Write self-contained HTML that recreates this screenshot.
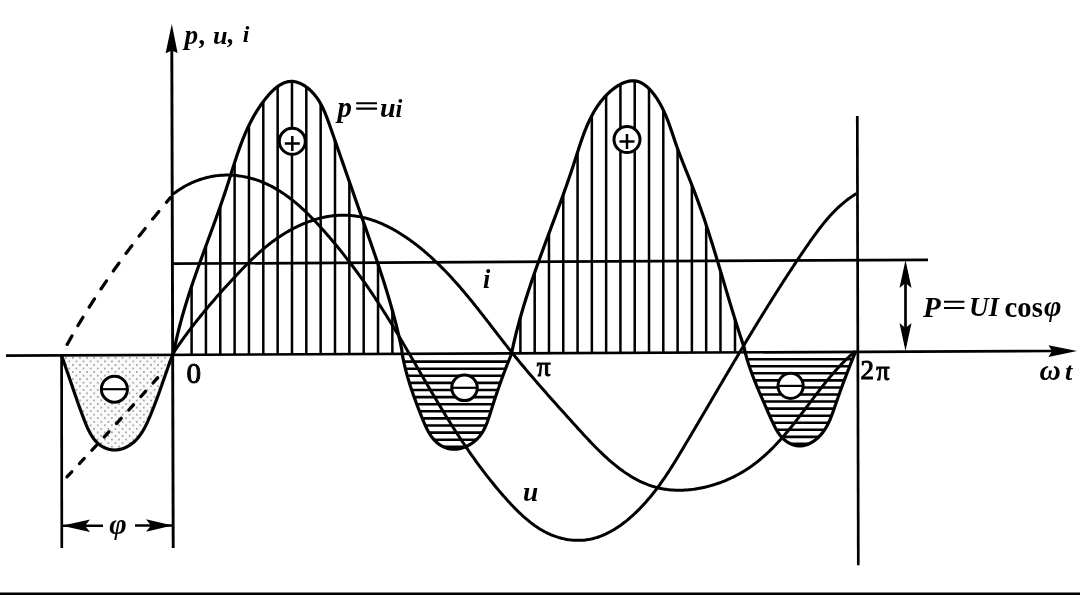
<!DOCTYPE html>
<html><head><meta charset="utf-8"><style>
html,body{margin:0;padding:0;background:#fff;width:1080px;height:595px;overflow:hidden;}
svg{display:block;font-family:"Liberation Serif",serif;}
#wrap{width:1080px;height:595px;will-change:transform;}
</style></head><body>
<div id="wrap"><svg width="1080" height="595" viewBox="0 0 1080 595"><path d="M191.60 354.62 V286.27 M205.94 354.55 V245.89 M220.28 354.49 V206.36 M234.62 354.43 V162.52 M248.96 354.36 V125.35 M263.30 354.30 V101.56 M277.64 354.24 V86.56 M291.98 354.17 V81.41 M306.32 354.11 V86.99 M320.66 354.05 V103.80 M335.00 353.99 V140.51 M349.34 353.92 V181.64 M363.68 353.86 V222.62 M378.02 353.80 V264.07 M392.36 353.73 V310.41 M520.40 353.17 V317.31 M534.69 353.11 V272.51 M548.98 353.04 V233.27 M563.27 352.98 V194.53 M577.56 352.92 V152.18 M591.85 352.85 V115.58 M606.14 352.79 V95.41 M620.43 352.73 V84.28 M634.72 352.67 V80.89 M649.01 352.60 V88.64 M663.30 352.54 V110.04 M677.59 352.48 V148.68 M691.88 352.41 V185.08 M706.17 352.35 V224.90 M720.46 352.29 V270.93 M735.00 352.22 V319.27" stroke="#000" stroke-width="2.5" fill="none"/>
<path d="M403.76 361.60 H508.35 M405.40 368.70 H505.56 M407.29 375.80 H502.89 M409.41 382.90 H500.32 M411.71 390.00 H497.82 M414.18 397.10 H495.41 M416.79 404.20 H493.10 M419.53 411.30 H490.82 M422.35 418.40 H488.55 M425.34 425.50 H485.86 M428.94 432.60 H482.16 M434.01 439.70 H476.29 M443.42 446.80 H465.48 M747.09 359.20 H852.45 M749.32 366.26 H849.66 M751.83 373.32 H846.90 M754.53 380.38 H844.23 M757.40 387.44 H841.58 M760.41 394.50 H839.02 M763.47 401.56 H836.54 M766.53 408.62 H834.12 M769.63 415.68 H831.55 M772.86 422.74 H828.54 M776.45 429.80 H824.62 M781.44 436.86 H818.85 M790.88 443.92 H808.65" stroke="#000" stroke-width="2.6" fill="none"/>
<defs><pattern id="dots" x="1" y="357" width="7.1" height="7.1" patternUnits="userSpaceOnUse"><rect x="0" y="0" width="1.7" height="1.7" fill="#a0a0a0"/><rect x="3.55" y="3.55" width="1.7" height="1.7" fill="#a0a0a0"/></pattern><clipPath id="cp1"><path d="M61.51 355.44 L61.63 355.78 L61.76 356.12 L61.88 356.46 L62.00 356.80 L62.13 357.14 L62.25 357.48 L62.37 357.82 L62.49 358.16 L62.61 358.50 L62.74 358.84 L62.86 359.17 L62.98 359.51 L63.10 359.85 L63.22 360.18 L63.34 360.52 L63.46 360.86 L63.58 361.19 L63.70 361.53 L63.81 361.86 L63.93 362.20 L64.05 362.53 L64.17 362.87 L64.29 363.20 L64.40 363.54 L64.52 363.87 L64.64 364.20 L64.76 364.53 L64.87 364.87 L64.99 365.20 L65.10 365.53 L65.22 365.86 L65.34 366.19 L65.45 366.52 L65.57 366.85 L65.68 367.19 L65.80 367.52 L65.91 367.85 L66.03 368.18 L66.14 368.50 L66.25 368.83 L66.37 369.16 L66.48 369.49 L66.60 369.82 L66.71 370.15 L66.82 370.48 L66.94 370.80 L67.05 371.13 L67.16 371.46 L67.27 371.79 L67.39 372.11 L67.50 372.44 L67.61 372.77 L67.72 373.09 L67.83 373.42 L67.95 373.75 L68.06 374.07 L68.17 374.40 L68.28 374.72 L68.39 375.05 L68.50 375.37 L68.61 375.70 L68.73 376.02 L68.84 376.35 L68.95 376.67 L69.06 377.00 L69.17 377.32 L69.28 377.64 L69.39 377.97 L69.50 378.29 L69.61 378.62 L69.72 378.94 L69.83 379.26 L69.94 379.59 L70.05 379.91 L70.16 380.23 L70.27 380.56 L70.38 380.88 L70.49 381.20 L70.60 381.53 L70.71 381.85 L70.82 382.17 L70.93 382.49 L71.04 382.82 L71.15 383.14 L71.26 383.46 L71.37 383.78 L71.48 384.11 L71.59 384.43 L71.70 384.75 L71.81 385.07 L71.92 385.39 L72.03 385.72 L72.14 386.04 L72.24 386.36 L72.35 386.68 L72.46 387.00 L72.57 387.33 L72.68 387.65 L72.79 387.97 L72.90 388.29 L73.01 388.61 L73.12 388.94 L73.23 389.26 L73.34 389.58 L73.45 389.90 L73.56 390.22 L73.67 390.55 L73.78 390.87 L73.89 391.19 L74.00 391.51 L74.12 391.84 L74.23 392.16 L74.34 392.48 L74.45 392.80 L74.56 393.12 L74.67 393.45 L74.78 393.77 L74.89 394.09 L75.00 394.42 L75.11 394.74 L75.23 395.06 L75.34 395.38 L75.45 395.71 L75.56 396.03 L75.67 396.35 L75.78 396.68 L75.90 397.00 L76.01 397.32 L76.12 397.65 L76.23 397.97 L76.35 398.30 L76.46 398.62 L76.57 398.94 L76.69 399.27 L76.80 399.59 L76.91 399.92 L77.03 400.24 L77.14 400.57 L77.26 400.89 L77.37 401.22 L77.49 401.54 L77.60 401.87 L77.72 402.19 L77.83 402.52 L77.95 402.85 L78.06 403.17 L78.18 403.50 L78.29 403.83 L78.41 404.15 L78.53 404.48 L78.64 404.81 L78.76 405.13 L78.88 405.46 L79.00 405.79 L79.11 406.12 L79.23 406.45 L79.35 406.78 L79.47 407.10 L79.59 407.43 L79.71 407.76 L79.83 408.09 L79.94 408.42 L80.06 408.75 L80.18 409.08 L80.30 409.41 L80.43 409.74 L80.55 410.08 L80.67 410.41 L80.79 410.74 L80.91 411.07 L81.03 411.40 L81.16 411.74 L81.28 412.07 L81.40 412.40 L81.52 412.74 L81.65 413.07 L81.77 413.40 L81.90 413.74 L82.02 414.07 L82.15 414.41 L82.27 414.74 L82.40 415.08 L82.52 415.41 L82.65 415.75 L82.78 416.09 L82.90 416.42 L83.03 416.76 L83.16 417.10 L83.29 417.44 L83.42 417.78 L83.55 418.12 L83.68 418.45 L83.81 418.79 L83.94 419.13 L84.07 419.47 L84.20 419.82 L84.33 420.16 L84.46 420.50 L84.59 420.84 L84.73 421.18 L84.86 421.52 L85.00 421.86 L85.13 422.20 L85.27 422.54 L85.40 422.88 L85.54 423.22 L85.68 423.56 L85.82 423.90 L85.96 424.24 L86.10 424.58 L86.24 424.92 L86.38 425.26 L86.52 425.60 L86.67 425.94 L86.81 426.27 L86.96 426.61 L87.11 426.94 L87.26 427.28 L87.40 427.61 L87.56 427.95 L87.71 428.28 L87.86 428.61 L88.01 428.94 L88.17 429.27 L88.33 429.60 L88.48 429.92 L88.64 430.25 L88.80 430.58 L88.97 430.90 L89.13 431.22 L89.29 431.54 L89.46 431.86 L89.63 432.18 L89.80 432.50 L89.97 432.82 L90.14 433.13 L90.31 433.44 L90.49 433.75 L90.67 434.06 L90.84 434.37 L91.02 434.68 L91.21 434.98 L91.39 435.28 L91.58 435.58 L91.76 435.88 L91.95 436.18 L92.14 436.47 L92.34 436.76 L92.53 437.06 L92.73 437.34 L92.93 437.63 L93.13 437.91 L93.33 438.20 L93.54 438.47 L93.74 438.75 L93.95 439.03 L94.16 439.30 L94.38 439.57 L94.59 439.84 L94.81 440.10 L95.03 440.36 L95.25 440.62 L95.48 440.88 L95.70 441.13 L95.93 441.38 L96.16 441.63 L96.40 441.88 L96.63 442.12 L96.87 442.36 L97.11 442.59 L97.36 442.83 L97.60 443.06 L97.85 443.29 L98.11 443.51 L98.36 443.73 L98.62 443.95 L98.88 444.16 L99.14 444.37 L99.40 444.58 L99.67 444.78 L99.94 444.99 L100.21 445.18 L100.48 445.38 L100.76 445.57 L101.04 445.75 L101.32 445.94 L101.60 446.12 L101.88 446.29 L102.17 446.46 L102.46 446.63 L102.75 446.80 L103.04 446.96 L103.33 447.12 L103.63 447.27 L103.93 447.42 L104.23 447.57 L104.53 447.71 L104.83 447.84 L105.13 447.98 L105.44 448.11 L105.75 448.23 L106.05 448.36 L106.36 448.47 L106.68 448.59 L106.99 448.70 L107.30 448.80 L107.62 448.90 L107.93 449.00 L108.25 449.09 L108.57 449.18 L108.89 449.27 L109.21 449.35 L109.53 449.42 L109.85 449.49 L110.17 449.56 L110.50 449.62 L110.82 449.68 L111.15 449.73 L111.47 449.78 L111.80 449.82 L112.13 449.86 L112.46 449.89 L112.78 449.92 L113.11 449.95 L113.44 449.97 L113.77 449.98 L114.10 449.99 L114.43 450.00 L114.76 450.00 L115.09 449.99 L115.42 449.99 L115.75 449.97 L116.08 449.95 L116.42 449.93 L116.75 449.90 L117.08 449.87 L117.41 449.83 L117.74 449.79 L118.07 449.74 L118.40 449.69 L118.73 449.63 L119.06 449.57 L119.39 449.51 L119.72 449.44 L120.05 449.37 L120.37 449.29 L120.70 449.21 L121.03 449.12 L121.35 449.03 L121.68 448.93 L122.00 448.84 L122.33 448.73 L122.65 448.63 L122.97 448.52 L123.30 448.40 L123.62 448.28 L123.94 448.16 L124.26 448.03 L124.57 447.90 L124.89 447.77 L125.21 447.63 L125.52 447.49 L125.83 447.35 L126.15 447.20 L126.46 447.05 L126.77 446.89 L127.08 446.73 L127.38 446.57 L127.69 446.40 L127.99 446.23 L128.29 446.06 L128.60 445.89 L128.89 445.71 L129.19 445.53 L129.49 445.34 L129.78 445.15 L130.08 444.96 L130.37 444.77 L130.65 444.57 L130.94 444.37 L131.23 444.16 L131.51 443.96 L131.79 443.75 L132.07 443.54 L132.35 443.32 L132.62 443.10 L132.89 442.88 L133.16 442.66 L133.43 442.44 L133.70 442.21 L133.96 441.98 L134.22 441.74 L134.48 441.51 L134.74 441.27 L134.99 441.03 L135.24 440.79 L135.49 440.54 L135.74 440.30 L135.98 440.05 L136.23 439.79 L136.47 439.54 L136.71 439.28 L136.94 439.03 L137.18 438.76 L137.41 438.50 L137.64 438.24 L137.87 437.97 L138.09 437.70 L138.31 437.43 L138.54 437.16 L138.76 436.88 L138.97 436.61 L139.19 436.33 L139.40 436.05 L139.61 435.77 L139.83 435.49 L140.03 435.20 L140.24 434.91 L140.44 434.63 L140.65 434.33 L140.85 434.04 L141.05 433.75 L141.25 433.46 L141.44 433.16 L141.64 432.86 L141.83 432.56 L142.02 432.26 L142.21 431.96 L142.40 431.66 L142.58 431.35 L142.77 431.05 L142.95 430.74 L143.13 430.43 L143.31 430.12 L143.49 429.81 L143.67 429.50 L143.85 429.19 L144.02 428.88 L144.20 428.56 L144.37 428.25 L144.54 427.93 L144.71 427.61 L144.88 427.29 L145.04 426.97 L145.21 426.65 L145.37 426.33 L145.54 426.01 L145.70 425.69 L145.86 425.37 L146.02 425.04 L146.18 424.72 L146.34 424.39 L146.49 424.07 L146.65 423.74 L146.81 423.42 L146.96 423.09 L147.11 422.76 L147.26 422.43 L147.42 422.11 L147.57 421.78 L147.72 421.45 L147.86 421.12 L148.01 420.79 L148.16 420.46 L148.31 420.13 L148.45 419.80 L148.60 419.47 L148.74 419.14 L148.88 418.81 L149.03 418.48 L149.17 418.15 L149.31 417.82 L149.45 417.49 L149.59 417.16 L149.73 416.83 L149.87 416.50 L150.01 416.17 L150.15 415.84 L150.29 415.51 L150.42 415.18 L150.56 414.86 L150.70 414.53 L150.83 414.20 L150.97 413.87 L151.10 413.54 L151.24 413.22 L151.37 412.89 L151.51 412.56 L151.64 412.23 L151.77 411.91 L151.91 411.58 L152.04 411.25 L152.17 410.93 L152.30 410.60 L152.43 410.27 L152.56 409.95 L152.69 409.62 L152.82 409.30 L152.95 408.97 L153.08 408.64 L153.21 408.32 L153.34 407.99 L153.47 407.67 L153.59 407.34 L153.72 407.02 L153.85 406.69 L153.97 406.37 L154.10 406.05 L154.22 405.72 L154.35 405.40 L154.48 405.07 L154.60 404.75 L154.72 404.43 L154.85 404.10 L154.97 403.78 L155.10 403.45 L155.22 403.13 L155.34 402.81 L155.46 402.48 L155.59 402.16 L155.71 401.84 L155.83 401.52 L155.95 401.19 L156.07 400.87 L156.19 400.55 L156.31 400.22 L156.43 399.90 L156.55 399.58 L156.67 399.26 L156.79 398.93 L156.91 398.61 L157.03 398.29 L157.15 397.97 L157.27 397.65 L157.39 397.32 L157.51 397.00 L157.62 396.68 L157.74 396.36 L157.86 396.04 L157.98 395.71 L158.09 395.39 L158.21 395.07 L158.33 394.75 L158.44 394.43 L158.56 394.10 L158.68 393.78 L158.79 393.46 L158.91 393.14 L159.02 392.82 L159.14 392.50 L159.25 392.17 L159.37 391.85 L159.48 391.53 L159.60 391.21 L159.71 390.89 L159.83 390.57 L159.94 390.24 L160.06 389.92 L160.17 389.60 L160.29 389.28 L160.40 388.96 L160.51 388.64 L160.63 388.31 L160.74 387.99 L160.85 387.67 L160.97 387.35 L161.08 387.03 L161.20 386.70 L161.31 386.38 L161.42 386.06 L161.54 385.74 L161.65 385.42 L161.76 385.09 L161.87 384.77 L161.99 384.45 L162.10 384.13 L162.21 383.81 L162.33 383.48 L162.44 383.16 L162.55 382.84 L162.66 382.52 L162.78 382.19 L162.89 381.87 L163.00 381.55 L163.12 381.22 L163.23 380.90 L163.34 380.58 L163.45 380.25 L163.57 379.93 L163.68 379.61 L163.79 379.28 L163.91 378.96 L164.02 378.64 L164.13 378.31 L164.24 377.99 L164.36 377.66 L164.47 377.34 L164.58 377.02 L164.70 376.69 L164.81 376.37 L164.92 376.04 L165.04 375.72 L165.15 375.39 L165.27 375.07 L165.38 374.74 L165.49 374.42 L165.61 374.09 L165.72 373.77 L165.83 373.44 L165.95 373.11 L166.06 372.79 L166.18 372.46 L166.29 372.14 L166.41 371.81 L166.52 371.48 L166.64 371.16 L166.75 370.83 L166.87 370.50 L166.98 370.17 L167.10 369.85 L167.21 369.52 L167.33 369.19 L167.45 368.86 L167.56 368.53 L167.68 368.21 L167.80 367.88 L167.91 367.55 L168.03 367.22 L168.15 366.89 L168.27 366.56 L168.38 366.23 L168.50 365.90 L168.62 365.57 L168.74 365.24 L168.86 364.91 L168.97 364.58 L169.09 364.25 L169.21 363.92 L169.33 363.59 L169.45 363.25 L169.57 362.92 L169.69 362.59 L169.81 362.26 L169.93 361.92 L170.05 361.59 L170.18 361.26 L170.30 360.93 L170.42 360.59 L170.54 360.26 L170.66 359.92 L170.79 359.59 L170.91 359.25 L171.03 358.92 L171.16 358.58 L171.28 358.25 L171.41 357.91 L171.53 357.58 L171.65 357.24 L171.78 356.90 L171.91 356.57 L172.03 356.23 L172.16 355.89 L172.28 355.56 L172.41 355.22 L172.5 354.7 L61.5 355.5 Z"/></clipPath></defs>
<path d="M61.51 355.44 L61.63 355.78 L61.76 356.12 L61.88 356.46 L62.00 356.80 L62.13 357.14 L62.25 357.48 L62.37 357.82 L62.49 358.16 L62.61 358.50 L62.74 358.84 L62.86 359.17 L62.98 359.51 L63.10 359.85 L63.22 360.18 L63.34 360.52 L63.46 360.86 L63.58 361.19 L63.70 361.53 L63.81 361.86 L63.93 362.20 L64.05 362.53 L64.17 362.87 L64.29 363.20 L64.40 363.54 L64.52 363.87 L64.64 364.20 L64.76 364.53 L64.87 364.87 L64.99 365.20 L65.10 365.53 L65.22 365.86 L65.34 366.19 L65.45 366.52 L65.57 366.85 L65.68 367.19 L65.80 367.52 L65.91 367.85 L66.03 368.18 L66.14 368.50 L66.25 368.83 L66.37 369.16 L66.48 369.49 L66.60 369.82 L66.71 370.15 L66.82 370.48 L66.94 370.80 L67.05 371.13 L67.16 371.46 L67.27 371.79 L67.39 372.11 L67.50 372.44 L67.61 372.77 L67.72 373.09 L67.83 373.42 L67.95 373.75 L68.06 374.07 L68.17 374.40 L68.28 374.72 L68.39 375.05 L68.50 375.37 L68.61 375.70 L68.73 376.02 L68.84 376.35 L68.95 376.67 L69.06 377.00 L69.17 377.32 L69.28 377.64 L69.39 377.97 L69.50 378.29 L69.61 378.62 L69.72 378.94 L69.83 379.26 L69.94 379.59 L70.05 379.91 L70.16 380.23 L70.27 380.56 L70.38 380.88 L70.49 381.20 L70.60 381.53 L70.71 381.85 L70.82 382.17 L70.93 382.49 L71.04 382.82 L71.15 383.14 L71.26 383.46 L71.37 383.78 L71.48 384.11 L71.59 384.43 L71.70 384.75 L71.81 385.07 L71.92 385.39 L72.03 385.72 L72.14 386.04 L72.24 386.36 L72.35 386.68 L72.46 387.00 L72.57 387.33 L72.68 387.65 L72.79 387.97 L72.90 388.29 L73.01 388.61 L73.12 388.94 L73.23 389.26 L73.34 389.58 L73.45 389.90 L73.56 390.22 L73.67 390.55 L73.78 390.87 L73.89 391.19 L74.00 391.51 L74.12 391.84 L74.23 392.16 L74.34 392.48 L74.45 392.80 L74.56 393.12 L74.67 393.45 L74.78 393.77 L74.89 394.09 L75.00 394.42 L75.11 394.74 L75.23 395.06 L75.34 395.38 L75.45 395.71 L75.56 396.03 L75.67 396.35 L75.78 396.68 L75.90 397.00 L76.01 397.32 L76.12 397.65 L76.23 397.97 L76.35 398.30 L76.46 398.62 L76.57 398.94 L76.69 399.27 L76.80 399.59 L76.91 399.92 L77.03 400.24 L77.14 400.57 L77.26 400.89 L77.37 401.22 L77.49 401.54 L77.60 401.87 L77.72 402.19 L77.83 402.52 L77.95 402.85 L78.06 403.17 L78.18 403.50 L78.29 403.83 L78.41 404.15 L78.53 404.48 L78.64 404.81 L78.76 405.13 L78.88 405.46 L79.00 405.79 L79.11 406.12 L79.23 406.45 L79.35 406.78 L79.47 407.10 L79.59 407.43 L79.71 407.76 L79.83 408.09 L79.94 408.42 L80.06 408.75 L80.18 409.08 L80.30 409.41 L80.43 409.74 L80.55 410.08 L80.67 410.41 L80.79 410.74 L80.91 411.07 L81.03 411.40 L81.16 411.74 L81.28 412.07 L81.40 412.40 L81.52 412.74 L81.65 413.07 L81.77 413.40 L81.90 413.74 L82.02 414.07 L82.15 414.41 L82.27 414.74 L82.40 415.08 L82.52 415.41 L82.65 415.75 L82.78 416.09 L82.90 416.42 L83.03 416.76 L83.16 417.10 L83.29 417.44 L83.42 417.78 L83.55 418.12 L83.68 418.45 L83.81 418.79 L83.94 419.13 L84.07 419.47 L84.20 419.82 L84.33 420.16 L84.46 420.50 L84.59 420.84 L84.73 421.18 L84.86 421.52 L85.00 421.86 L85.13 422.20 L85.27 422.54 L85.40 422.88 L85.54 423.22 L85.68 423.56 L85.82 423.90 L85.96 424.24 L86.10 424.58 L86.24 424.92 L86.38 425.26 L86.52 425.60 L86.67 425.94 L86.81 426.27 L86.96 426.61 L87.11 426.94 L87.26 427.28 L87.40 427.61 L87.56 427.95 L87.71 428.28 L87.86 428.61 L88.01 428.94 L88.17 429.27 L88.33 429.60 L88.48 429.92 L88.64 430.25 L88.80 430.58 L88.97 430.90 L89.13 431.22 L89.29 431.54 L89.46 431.86 L89.63 432.18 L89.80 432.50 L89.97 432.82 L90.14 433.13 L90.31 433.44 L90.49 433.75 L90.67 434.06 L90.84 434.37 L91.02 434.68 L91.21 434.98 L91.39 435.28 L91.58 435.58 L91.76 435.88 L91.95 436.18 L92.14 436.47 L92.34 436.76 L92.53 437.06 L92.73 437.34 L92.93 437.63 L93.13 437.91 L93.33 438.20 L93.54 438.47 L93.74 438.75 L93.95 439.03 L94.16 439.30 L94.38 439.57 L94.59 439.84 L94.81 440.10 L95.03 440.36 L95.25 440.62 L95.48 440.88 L95.70 441.13 L95.93 441.38 L96.16 441.63 L96.40 441.88 L96.63 442.12 L96.87 442.36 L97.11 442.59 L97.36 442.83 L97.60 443.06 L97.85 443.29 L98.11 443.51 L98.36 443.73 L98.62 443.95 L98.88 444.16 L99.14 444.37 L99.40 444.58 L99.67 444.78 L99.94 444.99 L100.21 445.18 L100.48 445.38 L100.76 445.57 L101.04 445.75 L101.32 445.94 L101.60 446.12 L101.88 446.29 L102.17 446.46 L102.46 446.63 L102.75 446.80 L103.04 446.96 L103.33 447.12 L103.63 447.27 L103.93 447.42 L104.23 447.57 L104.53 447.71 L104.83 447.84 L105.13 447.98 L105.44 448.11 L105.75 448.23 L106.05 448.36 L106.36 448.47 L106.68 448.59 L106.99 448.70 L107.30 448.80 L107.62 448.90 L107.93 449.00 L108.25 449.09 L108.57 449.18 L108.89 449.27 L109.21 449.35 L109.53 449.42 L109.85 449.49 L110.17 449.56 L110.50 449.62 L110.82 449.68 L111.15 449.73 L111.47 449.78 L111.80 449.82 L112.13 449.86 L112.46 449.89 L112.78 449.92 L113.11 449.95 L113.44 449.97 L113.77 449.98 L114.10 449.99 L114.43 450.00 L114.76 450.00 L115.09 449.99 L115.42 449.99 L115.75 449.97 L116.08 449.95 L116.42 449.93 L116.75 449.90 L117.08 449.87 L117.41 449.83 L117.74 449.79 L118.07 449.74 L118.40 449.69 L118.73 449.63 L119.06 449.57 L119.39 449.51 L119.72 449.44 L120.05 449.37 L120.37 449.29 L120.70 449.21 L121.03 449.12 L121.35 449.03 L121.68 448.93 L122.00 448.84 L122.33 448.73 L122.65 448.63 L122.97 448.52 L123.30 448.40 L123.62 448.28 L123.94 448.16 L124.26 448.03 L124.57 447.90 L124.89 447.77 L125.21 447.63 L125.52 447.49 L125.83 447.35 L126.15 447.20 L126.46 447.05 L126.77 446.89 L127.08 446.73 L127.38 446.57 L127.69 446.40 L127.99 446.23 L128.29 446.06 L128.60 445.89 L128.89 445.71 L129.19 445.53 L129.49 445.34 L129.78 445.15 L130.08 444.96 L130.37 444.77 L130.65 444.57 L130.94 444.37 L131.23 444.16 L131.51 443.96 L131.79 443.75 L132.07 443.54 L132.35 443.32 L132.62 443.10 L132.89 442.88 L133.16 442.66 L133.43 442.44 L133.70 442.21 L133.96 441.98 L134.22 441.74 L134.48 441.51 L134.74 441.27 L134.99 441.03 L135.24 440.79 L135.49 440.54 L135.74 440.30 L135.98 440.05 L136.23 439.79 L136.47 439.54 L136.71 439.28 L136.94 439.03 L137.18 438.76 L137.41 438.50 L137.64 438.24 L137.87 437.97 L138.09 437.70 L138.31 437.43 L138.54 437.16 L138.76 436.88 L138.97 436.61 L139.19 436.33 L139.40 436.05 L139.61 435.77 L139.83 435.49 L140.03 435.20 L140.24 434.91 L140.44 434.63 L140.65 434.33 L140.85 434.04 L141.05 433.75 L141.25 433.46 L141.44 433.16 L141.64 432.86 L141.83 432.56 L142.02 432.26 L142.21 431.96 L142.40 431.66 L142.58 431.35 L142.77 431.05 L142.95 430.74 L143.13 430.43 L143.31 430.12 L143.49 429.81 L143.67 429.50 L143.85 429.19 L144.02 428.88 L144.20 428.56 L144.37 428.25 L144.54 427.93 L144.71 427.61 L144.88 427.29 L145.04 426.97 L145.21 426.65 L145.37 426.33 L145.54 426.01 L145.70 425.69 L145.86 425.37 L146.02 425.04 L146.18 424.72 L146.34 424.39 L146.49 424.07 L146.65 423.74 L146.81 423.42 L146.96 423.09 L147.11 422.76 L147.26 422.43 L147.42 422.11 L147.57 421.78 L147.72 421.45 L147.86 421.12 L148.01 420.79 L148.16 420.46 L148.31 420.13 L148.45 419.80 L148.60 419.47 L148.74 419.14 L148.88 418.81 L149.03 418.48 L149.17 418.15 L149.31 417.82 L149.45 417.49 L149.59 417.16 L149.73 416.83 L149.87 416.50 L150.01 416.17 L150.15 415.84 L150.29 415.51 L150.42 415.18 L150.56 414.86 L150.70 414.53 L150.83 414.20 L150.97 413.87 L151.10 413.54 L151.24 413.22 L151.37 412.89 L151.51 412.56 L151.64 412.23 L151.77 411.91 L151.91 411.58 L152.04 411.25 L152.17 410.93 L152.30 410.60 L152.43 410.27 L152.56 409.95 L152.69 409.62 L152.82 409.30 L152.95 408.97 L153.08 408.64 L153.21 408.32 L153.34 407.99 L153.47 407.67 L153.59 407.34 L153.72 407.02 L153.85 406.69 L153.97 406.37 L154.10 406.05 L154.22 405.72 L154.35 405.40 L154.48 405.07 L154.60 404.75 L154.72 404.43 L154.85 404.10 L154.97 403.78 L155.10 403.45 L155.22 403.13 L155.34 402.81 L155.46 402.48 L155.59 402.16 L155.71 401.84 L155.83 401.52 L155.95 401.19 L156.07 400.87 L156.19 400.55 L156.31 400.22 L156.43 399.90 L156.55 399.58 L156.67 399.26 L156.79 398.93 L156.91 398.61 L157.03 398.29 L157.15 397.97 L157.27 397.65 L157.39 397.32 L157.51 397.00 L157.62 396.68 L157.74 396.36 L157.86 396.04 L157.98 395.71 L158.09 395.39 L158.21 395.07 L158.33 394.75 L158.44 394.43 L158.56 394.10 L158.68 393.78 L158.79 393.46 L158.91 393.14 L159.02 392.82 L159.14 392.50 L159.25 392.17 L159.37 391.85 L159.48 391.53 L159.60 391.21 L159.71 390.89 L159.83 390.57 L159.94 390.24 L160.06 389.92 L160.17 389.60 L160.29 389.28 L160.40 388.96 L160.51 388.64 L160.63 388.31 L160.74 387.99 L160.85 387.67 L160.97 387.35 L161.08 387.03 L161.20 386.70 L161.31 386.38 L161.42 386.06 L161.54 385.74 L161.65 385.42 L161.76 385.09 L161.87 384.77 L161.99 384.45 L162.10 384.13 L162.21 383.81 L162.33 383.48 L162.44 383.16 L162.55 382.84 L162.66 382.52 L162.78 382.19 L162.89 381.87 L163.00 381.55 L163.12 381.22 L163.23 380.90 L163.34 380.58 L163.45 380.25 L163.57 379.93 L163.68 379.61 L163.79 379.28 L163.91 378.96 L164.02 378.64 L164.13 378.31 L164.24 377.99 L164.36 377.66 L164.47 377.34 L164.58 377.02 L164.70 376.69 L164.81 376.37 L164.92 376.04 L165.04 375.72 L165.15 375.39 L165.27 375.07 L165.38 374.74 L165.49 374.42 L165.61 374.09 L165.72 373.77 L165.83 373.44 L165.95 373.11 L166.06 372.79 L166.18 372.46 L166.29 372.14 L166.41 371.81 L166.52 371.48 L166.64 371.16 L166.75 370.83 L166.87 370.50 L166.98 370.17 L167.10 369.85 L167.21 369.52 L167.33 369.19 L167.45 368.86 L167.56 368.53 L167.68 368.21 L167.80 367.88 L167.91 367.55 L168.03 367.22 L168.15 366.89 L168.27 366.56 L168.38 366.23 L168.50 365.90 L168.62 365.57 L168.74 365.24 L168.86 364.91 L168.97 364.58 L169.09 364.25 L169.21 363.92 L169.33 363.59 L169.45 363.25 L169.57 362.92 L169.69 362.59 L169.81 362.26 L169.93 361.92 L170.05 361.59 L170.18 361.26 L170.30 360.93 L170.42 360.59 L170.54 360.26 L170.66 359.92 L170.79 359.59 L170.91 359.25 L171.03 358.92 L171.16 358.58 L171.28 358.25 L171.41 357.91 L171.53 357.58 L171.65 357.24 L171.78 356.90 L171.91 356.57 L172.03 356.23 L172.16 355.89 L172.28 355.56 L172.41 355.22 L172.5 354.7 L61.5 355.5 Z" fill="#fafafa"/>
<rect x="55" y="350" width="125" height="110" fill="url(#dots)" clip-path="url(#cp1)"/>
<line x1="6" y1="355.6" x2="1052" y2="351.0" stroke="#000" stroke-width="2.7"/>
<path d="M1077 351.0 L1048.5 345.3 L1052 351.0 L1048.5 357.0 Z" fill="#000"/>
<line x1="171.8" y1="50" x2="173.2" y2="548" stroke="#000" stroke-width="2.9"/>
<path d="M171.8 24 L165.6 53.2 L171.8 50.5 L177.6 53.0 Z" fill="#000"/>
<line x1="857.3" y1="116" x2="858.3" y2="565.2" stroke="#000" stroke-width="2.7"/>
<line x1="61.6" y1="355" x2="61.8" y2="548" stroke="#000" stroke-width="2.7"/>
<line x1="172.5" y1="263.7" x2="928" y2="259.8" stroke="#000" stroke-width="2.7"/>
<line x1="905.5" y1="270" x2="905.5" y2="345" stroke="#000" stroke-width="2.7"/>
<path d="M905.5 260 L899.5 288 L905.5 283 L911.5 288 Z" fill="#000"/>
<path d="M905.5 351 L899.5 323 L905.5 328 L911.5 323 Z" fill="#000"/>
<line x1="62" y1="525.7" x2="103" y2="525.7" stroke="#000" stroke-width="2.6"/>
<line x1="135" y1="525.5" x2="172" y2="525.5" stroke="#000" stroke-width="2.6"/>
<path d="M62 525.7 L90 519.5 L85 525.7 L90 532 Z" fill="#000"/>
<path d="M172.5 525.5 L146 519.3 L151 525.5 L146 531.7 Z" fill="#000"/>
<path d="M67.21 344.39 L67.34 344.15 L67.47 343.91 L67.61 343.67 L67.74 343.43 L67.87 343.19 L68.00 342.95 L68.14 342.71 L68.27 342.47 L68.40 342.23 L68.53 341.99 L68.67 341.75 L68.80 341.51 L68.93 341.27 L69.07 341.03 L69.20 340.79 L69.33 340.55 L69.47 340.31 L69.60 340.08 L69.74 339.84 L69.87 339.60 L70.00 339.36 L70.14 339.12 L70.27 338.88 L70.41 338.64 L70.54 338.40 L70.68 338.16 L70.81 337.93 L70.95 337.69 L71.08 337.45 L71.21 337.21 L71.35 336.97 L71.48 336.73 L71.62 336.50 L71.76 336.26 L71.89 336.02 L72.03 335.78 L72.16 335.54 L72.30 335.31 L72.43 335.07 L72.57 334.83 L72.70 334.59 L72.84 334.35 L72.98 334.12 L73.11 333.88 L73.25 333.64 L73.39 333.40 L73.52 333.17 L73.66 332.93 L73.79 332.69 L73.93 332.45 L74.07 332.22 L74.21 331.98 L74.34 331.74 L74.48 331.50 L74.62 331.27 L74.75 331.03 L74.89 330.79 L75.03 330.56 L75.17 330.32 L75.30 330.08 L75.44 329.85 L75.58 329.61 L75.72 329.37 L75.86 329.14 L75.99 328.90 L76.13 328.66 L76.27 328.43 L76.41 328.19 L76.55 327.95 L76.68 327.72 L76.82 327.48 L76.96 327.24 L77.10 327.01 L77.24 326.77 L77.38 326.54 L77.52 326.30 L77.66 326.06 L77.80 325.83 L77.94 325.59 L78.07 325.36 L78.21 325.12 L78.35 324.88 L78.49 324.65 L78.63 324.41 L78.77 324.18 L78.91 323.94 L79.05 323.71 L79.19 323.47 L79.33 323.24 L79.47 323.00 L79.61 322.77 L79.75 322.53 L79.89 322.29 L80.04 322.06 L80.18 321.82 L80.32 321.59 L80.46 321.35 L80.60 321.12 L80.74 320.88 L80.88 320.65 L81.02 320.41 L81.16 320.18 L81.31 319.95 L81.45 319.71 L81.59 319.48 L81.73 319.24 L81.87 319.01 L82.01 318.77 L82.16 318.54 L82.30 318.30 L82.44 318.07 L82.58 317.84 L82.72 317.60 L82.87 317.37 L83.01 317.13 L83.15 316.90 L83.29 316.66 L83.44 316.43 L83.58 316.20 L83.72 315.96 L83.87 315.73 L84.01 315.50 L84.15 315.26 L84.29 315.03 L84.44 314.79 L84.58 314.56 L84.72 314.33 L84.87 314.09 L85.01 313.86 L85.16 313.63 L85.30 313.39 L85.44 313.16 L85.59 312.93 L85.73 312.69 L85.88 312.46 L86.02 312.23 L86.16 312.00 L86.31 311.76 L86.45 311.53 L86.60 311.30 L86.74 311.06 L86.89 310.83 L87.03 310.60 L87.18 310.37 L87.32 310.13 L87.47 309.90 L87.61 309.67 L87.76 309.44 L87.90 309.20 L88.05 308.97 L88.19 308.74 L88.34 308.51 L88.48 308.27 L88.63 308.04 L88.78 307.81 L88.92 307.58 L89.07 307.35 L89.21 307.11 L89.36 306.88 L89.51 306.65 L89.65 306.42 L89.80 306.19 L89.95 305.95 L90.09 305.72 L90.24 305.49 L90.39 305.26 L90.53 305.03 L90.68 304.80 L90.83 304.57 L90.97 304.33 L91.12 304.10 L91.27 303.87 L91.41 303.64 L91.56 303.41 L91.71 303.18 L91.86 302.95 L92.00 302.72 L92.15 302.48 L92.30 302.25 L92.45 302.02 L92.60 301.79 L92.74 301.56 L92.89 301.33 L93.04 301.10 L93.19 300.87 L93.34 300.64 L93.48 300.41 L93.63 300.18 L93.78 299.95 L93.93 299.72 L94.08 299.49 L94.23 299.26 L94.38 299.03 L94.53 298.80 L94.67 298.57 L94.82 298.34 L94.97 298.11 L95.12 297.88 L95.27 297.65 L95.42 297.42 L95.57 297.19 L95.72 296.96 L95.87 296.73 L96.02 296.50 L96.17 296.27 L96.32 296.04 L96.47 295.81 L96.62 295.58 L96.77 295.35 L96.92 295.12 L97.07 294.89 L97.22 294.66 L97.37 294.43 L97.52 294.20 L97.67 293.97 L97.82 293.74 L97.97 293.51 L98.12 293.29 L98.28 293.06 L98.43 292.83 L98.58 292.60 L98.73 292.37 L98.88 292.14 L99.03 291.91 L99.18 291.68 L99.33 291.46 L99.49 291.23 L99.64 291.00 L99.79 290.77 L99.94 290.54 L100.09 290.31 L100.24 290.08 L100.40 289.86 L100.55 289.63 L100.70 289.40 L100.85 289.17 L101.01 288.94 L101.16 288.72 L101.31 288.49 L101.46 288.26 L101.62 288.03 L101.77 287.80 L101.92 287.58 L102.07 287.35 L102.23 287.12 L102.38 286.89 L102.53 286.67 L102.69 286.44 L102.84 286.21 L102.99 285.98 L103.15 285.76 L103.30 285.53 L103.45 285.30 L103.61 285.07 L103.76 284.85 L103.91 284.62 L104.07 284.39 L104.22 284.16 L104.37 283.94 L104.53 283.71 L104.68 283.48 L104.84 283.26 L104.99 283.03 L105.15 282.80 L105.30 282.58 L105.45 282.35 L105.61 282.12 L105.76 281.90 L105.92 281.67 L106.07 281.44 L106.23 281.22 L106.38 280.99 L106.54 280.76 L106.69 280.54 L106.85 280.31 L107.00 280.09 L107.16 279.86 L107.31 279.63 L107.47 279.41 L107.62 279.18 L107.78 278.96 L107.94 278.73 L108.09 278.50 L108.25 278.28 L108.40 278.05 L108.56 277.83 L108.72 277.60 L108.87 277.37 L109.03 277.15 L109.18 276.92 L109.34 276.70 L109.50 276.47 L109.65 276.25 L109.81 276.02 L109.97 275.80 L110.12 275.57 L110.28 275.35 L110.44 275.12 L110.59 274.90 L110.75 274.67 L110.91 274.45 L111.06 274.22 L111.22 274.00 L111.38 273.77 L111.54 273.55 L111.69 273.32 L111.85 273.10 L112.01 272.87 L112.17 272.65 L112.32 272.42 L112.48 272.20 L112.64 271.97 L112.80 271.75 L112.95 271.52 L113.11 271.30 L113.27 271.08 L113.43 270.85 L113.59 270.63 L113.75 270.40 L113.90 270.18 L114.06 269.95 L114.22 269.73 L114.38 269.51 L114.54 269.28 L114.70 269.06 L114.86 268.84 L115.01 268.61 L115.17 268.39 L115.33 268.16 L115.49 267.94 L115.65 267.72 L115.81 267.49 L115.97 267.27 L116.13 267.05 L116.29 266.82 L116.45 266.60 L116.61 266.38 L116.77 266.15 L116.93 265.93 L117.09 265.71 L117.24 265.48 L117.40 265.26 L117.56 265.04 L117.72 264.81 L117.88 264.59 L118.04 264.37 L118.21 264.15 L118.37 263.92 L118.53 263.70 L118.69 263.48 L118.85 263.25 L119.01 263.03 L119.17 262.81 L119.33 262.59 L119.49 262.36 L119.65 262.14 L119.81 261.92 L119.97 261.70 L120.13 261.47 L120.29 261.25 L120.45 261.03 L120.62 260.81 L120.78 260.59 L120.94 260.36 L121.10 260.14 L121.26 259.92 L121.42 259.70 L121.58 259.48 L121.75 259.25 L121.91 259.03 L122.07 258.81 L122.23 258.59 L122.39 258.37 L122.56 258.15 L122.72 257.92 L122.88 257.70 L123.04 257.48 L123.20 257.26 L123.37 257.04 L123.53 256.82 L123.69 256.60 L123.85 256.37 L124.02 256.15 L124.18 255.93 L124.34 255.71 L124.50 255.49 L124.67 255.27 L124.83 255.05 L124.99 254.83 L125.16 254.61 L125.32 254.39 L125.48 254.16 L125.65 253.94 L125.81 253.72 L125.97 253.50 L126.14 253.28 L126.30 253.06 L126.46 252.84 L126.63 252.62 L126.79 252.40 L126.95 252.18 L127.12 251.96 L127.28 251.74 L127.44 251.52 L127.61 251.30 L127.77 251.08 L127.94 250.86 L128.10 250.64 L128.27 250.42 L128.43 250.20 L128.59 249.98 L128.76 249.76 L128.92 249.54 L129.09 249.32 L129.25 249.10 L129.42 248.88 L129.58 248.66 L129.75 248.44 L129.91 248.22 L130.08 248.00 L130.24 247.78 L130.41 247.56 L130.57 247.34 L130.74 247.12 L130.90 246.91 L131.07 246.69 L131.23 246.47 L131.40 246.25 L131.56 246.03 L131.73 245.81 L131.89 245.59 L132.06 245.37 L132.23 245.15 L132.39 244.93 L132.56 244.72 L132.72 244.50 L132.89 244.28 L133.05 244.06 L133.22 243.84 L133.39 243.62 L133.55 243.40 L133.72 243.19 L133.89 242.97 L134.05 242.75 L134.22 242.53 L134.38 242.31 L134.55 242.09 L134.72 241.88 L134.88 241.66 L135.05 241.44 L135.22 241.22 L135.38 241.00 L135.55 240.78 L135.72 240.57 L135.89 240.35 L136.05 240.13 L136.22 239.91 L136.39 239.70 L136.55 239.48 L136.72 239.26 L136.89 239.04 L137.06 238.83 L137.22 238.61 L137.39 238.39 L137.56 238.17 L137.73 237.96 L137.89 237.74 L138.06 237.52 L138.23 237.30 L138.40 237.09 L138.57 236.87 L138.73 236.65 L138.90 236.44 L139.07 236.22 L139.24 236.00 L139.41 235.78 L139.57 235.57 L139.74 235.35 L139.91 235.13 L140.08 234.92 L140.25 234.70 L140.42 234.48 L140.59 234.27 L140.75 234.05 L140.92 233.83 L141.09 233.62 L141.26 233.40 L141.43 233.18 L141.60 232.97 L141.77 232.75 L141.94 232.54 L142.11 232.32 L142.28 232.10 L142.44 231.89 L142.61 231.67 L142.78 231.46 L142.95 231.24 L143.12 231.02 L143.29 230.81 L143.46 230.59 L143.63 230.38 L143.80 230.16 L143.97 229.94 L144.14 229.73 L144.31 229.51 L144.48 229.30 L144.65 229.08 L144.82 228.87 L144.99 228.65 L145.16 228.44 L145.33 228.22 L145.50 228.00 L145.67 227.79 L145.84 227.57 L146.01 227.36 L146.18 227.14 L146.35 226.93 L146.52 226.71 L146.69 226.50 L146.86 226.28 L147.03 226.07 L147.21 225.85 L147.38 225.64 L147.55 225.42 L147.72 225.21 L147.89 225.00 L148.06 224.78 L148.23 224.57 L148.40 224.35 L148.57 224.14 L148.75 223.92 L148.92 223.71 L149.09 223.49 L149.26 223.28 L149.43 223.07 L149.60 222.85 L149.77 222.64 L149.95 222.42 L150.12 222.21 L150.29 221.99 L150.46 221.78 L150.63 221.57 L150.80 221.35 L150.98 221.14 L151.15 220.92 L151.32 220.71 L151.49 220.50 L151.66 220.28 L151.84 220.07 L152.01 219.86 L152.18 219.64 L152.35 219.43 L152.53 219.22 L152.70 219.00 L152.87 218.79 L153.04 218.58 L153.22 218.36 L153.39 218.15 L153.56 217.94 L153.73 217.72 L153.91 217.51 L154.08 217.30 L154.25 217.08 L154.43 216.87 L154.60 216.66 L154.77 216.44 L154.95 216.23 L155.12 216.02 L155.29 215.81 L155.46 215.59 L155.64 215.38 L155.81 215.17 L155.98 214.96 L156.16 214.74 L156.33 214.53 L156.51 214.32 L156.68 214.11 L156.85 213.89 L157.03 213.68 L157.20 213.47 L157.37 213.26 L157.55 213.04 L157.72 212.83 L157.90 212.62 L158.07 212.41 L158.24 212.20 L158.42 211.98 L158.59 211.77 L158.77 211.56 L158.94 211.35 L159.11 211.14 L159.29 210.92 L159.46 210.71 L159.64 210.50 L159.81 210.29 L159.99 210.08 L160.16 209.87 L160.34 209.65 L160.51 209.44 L160.69 209.23 L160.86 209.02 L161.04 208.81 L161.21 208.60 L161.38 208.39 L161.56 208.17 L161.73 207.96 L161.91 207.75 L162.09 207.54 L162.26 207.33 L162.44 207.12 L162.61 206.91 L162.79 206.70 L162.96 206.49 L163.14 206.28 L163.31 206.06 L163.49 205.85 L163.66 205.64 L163.84 205.43 L164.01 205.22 L164.19 205.01 L164.37 204.80 L164.54 204.59 L164.72 204.38 L164.89 204.17 L165.07 203.96 L165.24 203.75 L165.42 203.54 L165.60 203.33 L165.77 203.12 L165.95 202.91 L166.13 202.70 L166.30 202.49 L166.48 202.28 L166.65 202.07 L166.83 201.86 L167.01 201.65 L167.18 201.44 L167.36 201.23 L167.54 201.02 L167.71 200.81 L167.89 200.60 L168.07 200.39 L168.24 200.18 L168.42 199.97 L168.60 199.76 L168.77 199.55 L168.95 199.34 L169.13 199.13 L169.30 198.92 L169.48 198.71 L169.66 198.51 L169.83 198.30 L170.01 198.09 L170.19 197.88 L170.37 197.67" stroke="#000" stroke-width="3.3" fill="none" stroke-linecap="round" stroke-dasharray="9.6 12.1"/>
<path d="M172.71 194.43 L174.00 193.42 L175.31 192.44 L176.63 191.49 L177.97 190.56 L179.31 189.66 L180.68 188.78 L182.05 187.93 L183.43 187.10 L184.83 186.30 L186.24 185.53 L187.66 184.78 L189.09 184.06 L190.53 183.37 L191.98 182.70 L193.43 182.07 L194.90 181.45 L196.38 180.87 L197.86 180.31 L199.35 179.78 L200.84 179.28 L202.35 178.81 L203.85 178.36 L205.37 177.94 L206.89 177.56 L208.41 177.19 L209.94 176.86 L211.47 176.56 L213.00 176.28 L214.54 176.04 L216.08 175.82 L217.62 175.63 L219.17 175.47 L220.71 175.34 L222.26 175.24 L223.80 175.16 L225.35 175.12 L226.89 175.10 L228.44 175.11 L229.98 175.14 L231.53 175.21 L233.07 175.29 L234.60 175.41 L236.14 175.55 L237.67 175.72 L239.20 175.91 L240.72 176.13 L242.24 176.37 L243.76 176.64 L245.27 176.94 L246.77 177.25 L248.27 177.60 L249.77 177.96 L251.25 178.35 L252.73 178.77 L254.20 179.20 L255.67 179.66 L257.12 180.15 L258.57 180.65 L260.01 181.18 L261.44 181.73 L262.86 182.30 L264.26 182.90 L265.66 183.51 L267.06 184.15 L268.44 184.80 L269.81 185.48 L271.17 186.17 L272.53 186.89 L273.87 187.62 L275.21 188.37 L276.53 189.14 L277.85 189.93 L279.16 190.74 L280.47 191.56 L281.76 192.40 L283.05 193.26 L284.32 194.13 L285.59 195.01 L286.86 195.92 L288.11 196.83 L289.36 197.76 L290.59 198.71 L291.82 199.67 L293.05 200.64 L294.26 201.63 L295.47 202.63 L296.68 203.64 L297.87 204.66 L299.06 205.69 L300.24 206.74 L301.41 207.79 L302.58 208.86 L303.74 209.94 L304.90 211.02 L306.05 212.12 L307.19 213.22 L308.32 214.33 L309.45 215.45 L310.58 216.58 L311.70 217.72 L312.81 218.86 L313.91 220.01 L315.02 221.17 L316.11 222.33 L317.20 223.50 L318.29 224.67 L319.37 225.85 L320.44 227.03 L321.51 228.21 L322.58 229.40 L323.64 230.60 L324.69 231.79 L325.74 232.99 L326.79 234.19 L327.83 235.40 L328.87 236.60 L329.90 237.81 L330.93 239.01 L331.95 240.22 L332.97 241.43 L333.99 242.64 L335.00 243.86 L336.01 245.07 L337.01 246.29 L338.01 247.51 L339.01 248.73 L340.00 249.95 L340.99 251.18 L341.97 252.40 L342.95 253.63 L343.93 254.86 L344.90 256.09 L345.86 257.32 L346.83 258.56 L347.79 259.79 L348.75 261.03 L349.70 262.27 L350.65 263.51 L351.59 264.76 L352.53 266.00 L353.47 267.25 L354.40 268.50 L355.33 269.75 L356.26 271.00 L357.18 272.25 L358.10 273.51 L359.02 274.77 L359.93 276.03 L360.84 277.29 L361.75 278.56 L362.65 279.82 L363.55 281.09 L364.44 282.36 L365.34 283.63 L366.22 284.91 L367.11 286.18 L367.99 287.46 L368.87 288.74 L369.75 290.02 L370.62 291.31 L371.49 292.59 L372.36 293.88 L373.22 295.17 L374.08 296.47 L374.94 297.76 L375.79 299.05 L376.64 300.35 L377.49 301.65 L378.34 302.95 L379.18 304.26 L380.02 305.56 L380.86 306.87 L381.70 308.17 L382.53 309.48 L383.36 310.79 L384.19 312.11 L385.02 313.42 L385.85 314.74 L386.67 316.05 L387.49 317.37 L388.31 318.69 L389.12 320.01 L389.94 321.33 L390.75 322.66 L391.56 323.98 L392.37 325.31 L393.18 326.63 L393.99 327.96 L394.79 329.29 L395.59 330.62 L396.39 331.95 L397.19 333.28 L397.99 334.61 L398.79 335.95 L399.59 337.28 L400.38 338.62 L401.17 339.96 L401.97 341.29 L402.76 342.63 L403.55 343.97 L404.34 345.31 L405.13 346.65 L405.91 347.99 L406.70 349.33 L407.49 350.67 L408.27 352.01 L409.06 353.36 L409.84 354.70 L410.63 356.04 L411.41 357.39 L412.19 358.73 L412.98 360.08 L413.76 361.42 L414.54 362.77 L415.32 364.11 L416.10 365.46 L416.89 366.81 L417.67 368.15 L418.45 369.50 L419.23 370.84 L420.01 372.19 L420.80 373.54 L421.58 374.88 L422.36 376.23 L423.15 377.58 L423.93 378.92 L424.71 380.27 L425.50 381.61 L426.28 382.96 L427.07 384.30 L427.86 385.65 L428.65 386.99 L429.43 388.34 L430.22 389.68 L431.01 391.02 L431.80 392.37 L432.60 393.71 L433.39 395.05 L434.18 396.39 L434.98 397.73 L435.78 399.07 L436.57 400.41 L437.37 401.75 L438.17 403.09 L438.98 404.43 L439.78 405.76 L440.59 407.10 L441.39 408.43 L442.20 409.77 L443.01 411.10 L443.83 412.43 L444.64 413.77 L445.46 415.10 L446.27 416.42 L447.09 417.75 L447.92 419.08 L448.74 420.41 L449.57 421.73 L450.39 423.05 L451.23 424.38 L452.06 425.70 L452.89 427.02 L453.73 428.33 L454.57 429.65 L455.42 430.97 L456.26 432.28 L457.11 433.59 L457.96 434.90 L458.81 436.21 L459.67 437.52 L460.53 438.83 L461.39 440.13 L462.26 441.44 L463.13 442.74 L464.00 444.04 L464.87 445.34 L465.75 446.63 L466.63 447.93 L467.52 449.22 L468.41 450.51 L469.30 451.80 L470.19 453.08 L471.09 454.37 L471.99 455.65 L472.90 456.93 L473.81 458.21 L474.72 459.49 L475.64 460.76 L476.56 462.03 L477.48 463.30 L478.41 464.57 L479.35 465.84 L480.28 467.10 L481.22 468.36 L482.17 469.62 L483.12 470.87 L484.07 472.13 L485.03 473.38 L485.99 474.63 L486.96 475.87 L487.93 477.12 L488.91 478.36 L489.89 479.59 L490.87 480.83 L491.86 482.06 L492.86 483.29 L493.86 484.52 L494.86 485.74 L495.87 486.97 L496.89 488.18 L497.91 489.40 L498.93 490.61 L499.96 491.82 L501.00 493.03 L502.04 494.23 L503.08 495.43 L504.13 496.63 L505.19 497.83 L506.25 499.02 L507.32 500.20 L508.39 501.39 L509.47 502.57 L510.56 503.74 L511.65 504.91 L512.75 506.07 L513.86 507.22 L514.97 508.36 L516.09 509.50 L517.21 510.62 L518.35 511.74 L519.49 512.84 L520.64 513.93 L521.80 515.01 L522.97 516.08 L524.14 517.13 L525.32 518.17 L526.52 519.19 L527.72 520.20 L528.93 521.19 L530.15 522.16 L531.38 523.11 L532.62 524.05 L533.87 524.97 L535.13 525.86 L536.40 526.74 L537.68 527.59 L538.97 528.42 L540.27 529.23 L541.59 530.02 L542.91 530.78 L544.25 531.52 L545.60 532.23 L546.96 532.91 L548.33 533.57 L549.71 534.20 L551.11 534.81 L552.52 535.38 L553.94 535.92 L555.37 536.44 L556.81 536.92 L558.26 537.38 L559.72 537.80 L561.19 538.19 L562.67 538.55 L564.15 538.88 L565.63 539.18 L567.13 539.45 L568.62 539.68 L570.12 539.88 L571.63 540.05 L573.13 540.18 L574.64 540.28 L576.15 540.34 L577.66 540.37 L579.16 540.37 L580.67 540.33 L582.18 540.25 L583.68 540.14 L585.18 539.99 L586.67 539.80 L588.16 539.58 L589.64 539.32 L591.12 539.02 L592.59 538.68 L594.06 538.31 L595.52 537.90 L596.97 537.46 L598.41 536.98 L599.85 536.47 L601.27 535.93 L602.69 535.35 L604.11 534.75 L605.51 534.12 L606.91 533.45 L608.30 532.76 L609.68 532.04 L611.05 531.30 L612.41 530.52 L613.76 529.73 L615.10 528.91 L616.44 528.06 L617.76 527.20 L619.07 526.31 L620.38 525.40 L621.67 524.47 L622.95 523.52 L624.22 522.55 L625.49 521.57 L626.74 520.57 L627.98 519.55 L629.20 518.52 L630.42 517.47 L631.62 516.41 L632.82 515.34 L634.00 514.26 L635.17 513.16 L636.32 512.06 L637.47 510.94 L638.60 509.82 L639.72 508.69 L640.82 507.55 L641.92 506.40 L643.00 505.24 L644.07 504.08 L645.13 502.91 L646.18 501.73 L647.22 500.54 L648.24 499.34 L649.26 498.14 L650.27 496.94 L651.27 495.72 L652.25 494.50 L653.23 493.27 L654.20 492.04 L655.16 490.80 L656.12 489.55 L657.06 488.30 L657.99 487.05 L658.92 485.78 L659.84 484.52 L660.75 483.24 L661.66 481.97 L662.56 480.69 L663.45 479.40 L664.33 478.11 L665.21 476.81 L666.09 475.52 L666.95 474.21 L667.82 472.91 L668.67 471.60 L669.52 470.28 L670.37 468.97 L671.21 467.65 L672.05 466.33 L672.88 465.00 L673.71 463.68 L674.54 462.35 L675.36 461.02 L676.18 459.68 L677.00 458.35 L677.81 457.01 L678.62 455.67 L679.43 454.33 L680.24 452.99 L681.05 451.65 L681.85 450.31 L682.65 448.97 L683.45 447.63 L684.26 446.28 L685.06 444.94 L685.86 443.59 L686.66 442.25 L687.45 440.91 L688.25 439.56 L689.05 438.22 L689.85 436.87 L690.65 435.53 L691.44 434.18 L692.24 432.84 L693.03 431.49 L693.83 430.15 L694.62 428.80 L695.42 427.46 L696.21 426.11 L697.01 424.77 L697.80 423.42 L698.59 422.08 L699.38 420.73 L700.18 419.39 L700.97 418.04 L701.76 416.70 L702.55 415.35 L703.34 414.01 L704.13 412.66 L704.93 411.31 L705.72 409.97 L706.51 408.62 L707.30 407.28 L708.09 405.93 L708.88 404.59 L709.67 403.24 L710.46 401.90 L711.25 400.55 L712.04 399.20 L712.83 397.86 L713.62 396.51 L714.41 395.17 L715.20 393.82 L715.99 392.48 L716.78 391.13 L717.57 389.79 L718.36 388.44 L719.15 387.10 L719.94 385.76 L720.73 384.41 L721.52 383.07 L722.31 381.72 L723.10 380.38 L723.89 379.03 L724.68 377.69 L725.48 376.35 L726.27 375.00 L727.06 373.66 L727.85 372.32 L728.64 370.97 L729.44 369.63 L730.23 368.29 L731.02 366.95 L731.82 365.60 L732.61 364.26 L733.41 362.92 L734.20 361.58 L735.00 360.24 L735.79 358.90 L736.59 357.56 L737.39 356.22 L738.18 354.88 L738.98 353.54 L739.78 352.20 L740.58 350.86 L741.38 349.52 L742.18 348.18 L742.98 346.84 L743.78 345.50 L744.58 344.16 L745.38 342.83 L746.18 341.49 L746.99 340.15 L747.79 338.81 L748.60 337.48 L749.40 336.14 L750.21 334.81 L751.02 333.47 L751.82 332.13 L752.63 330.80 L753.44 329.47 L754.25 328.13 L755.06 326.80 L755.87 325.46 L756.69 324.13 L757.50 322.80 L758.31 321.47 L759.13 320.14 L759.95 318.80 L760.76 317.47 L761.58 316.14 L762.40 314.81 L763.22 313.48 L764.04 312.15 L764.86 310.83 L765.69 309.50 L766.51 308.17 L767.33 306.84 L768.16 305.52 L768.99 304.19 L769.82 302.86 L770.65 301.54 L771.48 300.21 L772.31 298.89 L773.14 297.56 L773.97 296.24 L774.81 294.92 L775.65 293.60 L776.48 292.27 L777.32 290.95 L778.16 289.63 L779.00 288.31 L779.85 286.99 L780.69 285.67 L781.54 284.36 L782.38 283.04 L783.23 281.72 L784.08 280.40 L784.93 279.09 L785.78 277.77 L786.64 276.46 L787.49 275.14 L788.35 273.83 L789.21 272.52 L790.07 271.20 L790.93 269.89 L791.79 268.58 L792.65 267.27 L793.52 265.96 L794.39 264.65 L795.26 263.34 L796.13 262.04 L797.00 260.73 L797.87 259.42 L798.75 258.12 L799.62 256.81 L800.50 255.51 L801.38 254.20 L802.26 252.90 L803.15 251.60 L804.03 250.30 L804.92 249.00 L805.81 247.70 L806.70 246.40 L807.59 245.10 L808.49 243.80 L809.39 242.51 L810.29 241.22 L811.19 239.93 L812.10 238.65 L813.01 237.36 L813.93 236.09 L814.85 234.81 L815.78 233.54 L816.71 232.28 L817.65 231.02 L818.59 229.77 L819.54 228.53 L820.50 227.29 L821.46 226.06 L822.43 224.83 L823.41 223.62 L824.39 222.41 L825.39 221.21 L826.39 220.02 L827.40 218.85 L828.42 217.68 L829.45 216.52 L830.48 215.37 L831.53 214.23 L832.59 213.11 L833.66 211.99 L834.74 210.89 L835.83 209.80 L836.93 208.73 L838.04 207.67 L839.17 206.62 L840.31 205.59 L841.46 204.57 L842.62 203.56 L843.80 202.58 L844.99 201.61 L846.19 200.65 L847.41 199.71 L848.65 198.79 L849.89 197.89 L851.16 197.00 L852.44 196.13 L853.73 195.28 L855.04 194.45 L856.37 193.64" stroke="#000" stroke-width="3.0" fill="none" stroke-linejoin="round"/>
<path d="M67.00 476.81 L67.15 476.65 L67.30 476.49 L67.44 476.34 L67.59 476.18 L67.74 476.03 L67.89 475.87 L68.03 475.71 L68.18 475.56 L68.33 475.40 L68.48 475.25 L68.62 475.09 L68.77 474.94 L68.92 474.78 L69.07 474.62 L69.21 474.47 L69.36 474.31 L69.51 474.16 L69.65 474.00 L69.80 473.84 L69.95 473.69 L70.10 473.53 L70.24 473.38 L70.39 473.22 L70.54 473.06 L70.69 472.91 L70.83 472.75 L70.98 472.60 L71.13 472.44 L71.27 472.28 L71.42 472.13 L71.57 471.97 L71.72 471.82 L71.86 471.66 L72.01 471.50 L72.16 471.35 L72.30 471.19 L72.45 471.04 L72.60 470.88 L72.75 470.72 L72.89 470.57 L73.04 470.41 L73.19 470.26 L73.33 470.10 L73.48 469.94 L73.63 469.79 L73.77 469.63 L73.92 469.48 L74.07 469.32 L74.22 469.16 L74.36 469.01 L74.51 468.85 L74.66 468.70 L74.80 468.54 L74.95 468.38 L75.10 468.23 L75.24 468.07 L75.39 467.91 L75.54 467.76 L75.68 467.60 L75.83 467.45 L75.98 467.29 L76.12 467.13 L76.27 466.98 L76.42 466.82 L76.56 466.67 L76.71 466.51 L76.86 466.35 L77.01 466.20 L77.15 466.04 L77.30 465.88 L77.45 465.73 L77.59 465.57 L77.74 465.42 L77.89 465.26 L78.03 465.10 L78.18 464.95 L78.33 464.79 L78.47 464.63 L78.62 464.48 L78.77 464.32 L78.91 464.17 L79.06 464.01 L79.21 463.85 L79.35 463.70 L79.50 463.54 L79.65 463.38 L79.79 463.23 L79.94 463.07 L80.08 462.91 L80.23 462.76 L80.38 462.60 L80.52 462.45 L80.67 462.29 L80.82 462.13 L80.96 461.98 L81.11 461.82 L81.26 461.66 L81.40 461.51 L81.55 461.35 L81.70 461.19 L81.84 461.04 L81.99 460.88 L82.14 460.73 L82.28 460.57 L82.43 460.41 L82.57 460.26 L82.72 460.10 L82.87 459.94 L83.01 459.79 L83.16 459.63 L83.31 459.47 L83.45 459.32 L83.60 459.16 L83.75 459.00 L83.89 458.85 L84.04 458.69 L84.18 458.53 L84.33 458.38 L84.48 458.22 L84.62 458.06 L84.77 457.91 L84.91 457.75 L85.06 457.60 L85.21 457.44 L85.35 457.28 L85.50 457.13 L85.65 456.97 L85.79 456.81 L85.94 456.66 L86.08 456.50 L86.23 456.34 L86.38 456.19 L86.52 456.03 L86.67 455.87 L86.81 455.72 L86.96 455.56 L87.11 455.40 L87.25 455.25 L87.40 455.09 L87.54 454.93 L87.69 454.78 L87.84 454.62 L87.98 454.46 L88.13 454.31 L88.27 454.15 L88.42 453.99 L88.57 453.84 L88.71 453.68 L88.86 453.52 L89.00 453.37 L89.15 453.21 L89.30 453.05 L89.44 452.90 L89.59 452.74 L89.73 452.58 L89.88 452.43 L90.03 452.27 L90.17 452.11 L90.32 451.96 L90.46 451.80 L90.61 451.64 L90.75 451.48 L90.90 451.33 L91.05 451.17 L91.19 451.01 L91.34 450.86 L91.48 450.70 L91.63 450.54 L91.78 450.39 L91.92 450.23 L92.07 450.07 L92.21 449.92 L92.36 449.76 L92.50 449.60 L92.65 449.45 L92.79 449.29 L92.94 449.13 L93.09 448.98 L93.23 448.82 L93.38 448.66 L93.52 448.50 L93.67 448.35 L93.81 448.19 L93.96 448.03 L94.11 447.88 L94.25 447.72 L94.40 447.56 L94.54 447.41 L94.69 447.25 L94.83 447.09 L94.98 446.93 L95.12 446.78 L95.27 446.62 L95.42 446.46 L95.56 446.31 L95.71 446.15 L95.85 445.99 L96.00 445.84 L96.14 445.68 L96.29 445.52 L96.43 445.36 L96.58 445.21 L96.72 445.05 L96.87 444.89 L97.01 444.74 L97.16 444.58 L97.31 444.42 L97.45 444.27 L97.60 444.11 L97.74 443.95 L97.89 443.79 L98.03 443.64 L98.18 443.48 L98.32 443.32 L98.47 443.17 L98.61 443.01 L98.76 442.85 L98.90 442.69 L99.05 442.54 L99.19 442.38 L99.34 442.22 L99.48 442.07 L99.63 441.91 L99.77 441.75 L99.92 441.59 L100.06 441.44 L100.21 441.28 L100.35 441.12 L100.50 440.97 L100.65 440.81 L100.79 440.65 L100.94 440.49 L101.08 440.34 L101.23 440.18 L101.37 440.02 L101.52 439.86 L101.66 439.71 L101.81 439.55 L101.95 439.39 L102.10 439.24 L102.24 439.08 L102.39 438.92 L102.53 438.76 L102.68 438.61 L102.82 438.45 L102.97 438.29 L103.11 438.13 L103.26 437.98 L103.40 437.82 L103.55 437.66 L103.69 437.51 L103.83 437.35 L103.98 437.19 L104.12 437.03 L104.27 436.88 L104.41 436.72 L104.56 436.56 L104.70 436.40 L104.85 436.25 L104.99 436.09 L105.14 435.93 L105.28 435.77 L105.43 435.62 L105.57 435.46 L105.72 435.30 L105.86 435.14 L106.01 434.99 L106.15 434.83 L106.30 434.67 L106.44 434.51 L106.59 434.36 L106.73 434.20 L106.88 434.04 L107.02 433.88 L107.16 433.73 L107.31 433.57 L107.45 433.41 L107.60 433.25 L107.74 433.10 L107.89 432.94 L108.03 432.78 L108.18 432.62 L108.32 432.47 L108.47 432.31 L108.61 432.15 L108.75 431.99 L108.90 431.84 L109.04 431.68 L109.19 431.52 L109.33 431.36 L109.48 431.21 L109.62 431.05 L109.77 430.89 L109.91 430.73 L110.06 430.58 L110.20 430.42 L110.34 430.26 L110.49 430.10 L110.63 429.95 L110.78 429.79 L110.92 429.63 L111.07 429.47 L111.21 429.32 L111.35 429.16 L111.50 429.00 L111.64 428.84 L111.79 428.68 L111.93 428.53 L112.08 428.37 L112.22 428.21 L112.36 428.05 L112.51 427.90 L112.65 427.74 L112.80 427.58 L112.94 427.42 L113.09 427.27 L113.23 427.11 L113.37 426.95 L113.52 426.79 L113.66 426.63 L113.81 426.48 L113.95 426.32 L114.10 426.16 L114.24 426.00 L114.38 425.85 L114.53 425.69 L114.67 425.53 L114.82 425.37 L114.96 425.21 L115.10 425.06 L115.25 424.90 L115.39 424.74 L115.54 424.58 L115.68 424.42 L115.82 424.27 L115.97 424.11 L116.11 423.95 L116.26 423.79 L116.40 423.64 L116.54 423.48 L116.69 423.32 L116.83 423.16 L116.98 423.00 L117.12 422.85 L117.26 422.69 L117.41 422.53 L117.55 422.37 L117.70 422.21 L117.84 422.06 L117.98 421.90 L118.13 421.74 L118.27 421.58 L118.42 421.42 L118.56 421.27 L118.70 421.11 L118.85 420.95 L118.99 420.79 L119.13 420.63 L119.28 420.48 L119.42 420.32 L119.57 420.16 L119.71 420.00 L119.85 419.84 L120.00 419.69 L120.14 419.53 L120.28 419.37 L120.43 419.21 L120.57 419.05 L120.72 418.90 L120.86 418.74 L121.00 418.58 L121.15 418.42 L121.29 418.26 L121.43 418.11 L121.58 417.95 L121.72 417.79 L121.86 417.63 L122.01 417.47 L122.15 417.32 L122.30 417.16 L122.44 417.00 L122.58 416.84 L122.73 416.68 L122.87 416.52 L123.01 416.37 L123.16 416.21 L123.30 416.05 L123.44 415.89 L123.59 415.73 L123.73 415.58 L123.87 415.42 L124.02 415.26 L124.16 415.10 L124.30 414.94 L124.45 414.78 L124.59 414.63 L124.73 414.47 L124.88 414.31 L125.02 414.15 L125.16 413.99 L125.31 413.84 L125.45 413.68 L125.59 413.52 L125.74 413.36 L125.88 413.20 L126.02 413.04 L126.17 412.89 L126.31 412.73 L126.45 412.57 L126.60 412.41 L126.74 412.25 L126.88 412.09 L127.03 411.94 L127.17 411.78 L127.31 411.62 L127.46 411.46 L127.60 411.30 L127.74 411.14 L127.89 410.99 L128.03 410.83 L128.17 410.67 L128.32 410.51 L128.46 410.35 L128.60 410.19 L128.75 410.04 L128.89 409.88 L129.03 409.72 L129.17 409.56 L129.32 409.40 L129.46 409.24 L129.60 409.08 L129.75 408.93 L129.89 408.77 L130.03 408.61 L130.18 408.45 L130.32 408.29 L130.46 408.13 L130.60 407.98 L130.75 407.82 L130.89 407.66 L131.03 407.50 L131.18 407.34 L131.32 407.18 L131.46 407.02 L131.61 406.87 L131.75 406.71 L131.89 406.55 L132.03 406.39 L132.18 406.23 L132.32 406.07 L132.46 405.91 L132.61 405.76 L132.75 405.60 L132.89 405.44 L133.03 405.28 L133.18 405.12 L133.32 404.96 L133.46 404.80 L133.61 404.65 L133.75 404.49 L133.89 404.33 L134.03 404.17 L134.18 404.01 L134.32 403.85 L134.46 403.69 L134.60 403.54 L134.75 403.38 L134.89 403.22 L135.03 403.06 L135.17 402.90 L135.32 402.74 L135.46 402.58 L135.60 402.42 L135.75 402.27 L135.89 402.11 L136.03 401.95 L136.17 401.79 L136.32 401.63 L136.46 401.47 L136.60 401.31 L136.74 401.15 L136.89 401.00 L137.03 400.84 L137.17 400.68 L137.31 400.52 L137.46 400.36 L137.60 400.20 L137.74 400.04 L137.88 399.88 L138.03 399.73 L138.17 399.57 L138.31 399.41 L138.45 399.25 L138.60 399.09 L138.74 398.93 L138.88 398.77 L139.02 398.61 L139.17 398.45 L139.31 398.30 L139.45 398.14 L139.59 397.98 L139.73 397.82 L139.88 397.66 L140.02 397.50 L140.16 397.34 L140.30 397.18 L140.45 397.02 L140.59 396.87 L140.73 396.71 L140.87 396.55 L141.01 396.39 L141.16 396.23 L141.30 396.07 L141.44 395.91 L141.58 395.75 L141.73 395.59 L141.87 395.44 L142.01 395.28 L142.15 395.12 L142.29 394.96 L142.44 394.80 L142.58 394.64 L142.72 394.48 L142.86 394.32 L143.01 394.16 L143.15 394.00 L143.29 393.85 L143.43 393.69 L143.57 393.53 L143.72 393.37 L143.86 393.21 L144.00 393.05 L144.14 392.89 L144.28 392.73 L144.43 392.57 L144.57 392.41 L144.71 392.25 L144.85 392.10 L144.99 391.94 L145.14 391.78 L145.28 391.62 L145.42 391.46 L145.56 391.30 L145.70 391.14 L145.84 390.98 L145.99 390.82 L146.13 390.66 L146.27 390.50 L146.41 390.35 L146.55 390.19 L146.70 390.03 L146.84 389.87 L146.98 389.71 L147.12 389.55 L147.26 389.39 L147.40 389.23 L147.55 389.07 L147.69 388.91 L147.83 388.75 L147.97 388.59 L148.11 388.43 L148.26 388.28 L148.40 388.12 L148.54 387.96 L148.68 387.80 L148.82 387.64 L148.96 387.48 L149.11 387.32 L149.25 387.16 L149.39 387.00 L149.53 386.84 L149.67 386.68 L149.81 386.52 L149.96 386.36 L150.10 386.20 L150.24 386.05 L150.38 385.89 L150.52 385.73 L150.66 385.57 L150.80 385.41 L150.95 385.25 L151.09 385.09 L151.23 384.93 L151.37 384.77 L151.51 384.61 L151.65 384.45 L151.79 384.29 L151.94 384.13 L152.08 383.97 L152.22 383.81 L152.36 383.65 L152.50 383.50 L152.64 383.34 L152.78 383.18 L152.93 383.02 L153.07 382.86 L153.21 382.70 L153.35 382.54 L153.49 382.38 L153.63 382.22 L153.77 382.06 L153.92 381.90 L154.06 381.74 L154.20 381.58 L154.34 381.42 L154.48 381.26 L154.62 381.10 L154.76 380.94 L154.90 380.78 L155.05 380.62 L155.19 380.46 L155.33 380.31 L155.47 380.15 L155.61 379.99 L155.75 379.83 L155.89 379.67 L156.03 379.51 L156.18 379.35 L156.32 379.19 L156.46 379.03 L156.60 378.87 L156.74 378.71 L156.88 378.55 L157.02 378.39 L157.16 378.23 L157.30 378.07 L157.44 377.91 L157.59 377.75 L157.73 377.59 L157.87 377.43 L158.01 377.27 L158.15 377.11 L158.29 376.95 L158.43 376.79 L158.57 376.63 L158.71 376.47 L158.85 376.31 L159.00 376.15 L159.14 375.99 L159.28 375.84 L159.42 375.68 L159.56 375.52 L159.70 375.36 L159.84 375.20 L159.98 375.04 L160.12 374.88 L160.26 374.72 L160.40 374.56 L160.55 374.40 L160.69 374.24 L160.83 374.08 L160.97 373.92 L161.11 373.76 L161.25 373.60 L161.39 373.44 L161.53 373.28" stroke="#000" stroke-width="3.3" fill="none" stroke-linecap="round" stroke-dasharray="7 11.2"/>
<path d="M172.52 354.11 L173.29 352.96 L174.06 351.82 L174.83 350.67 L175.60 349.54 L176.38 348.40 L177.16 347.27 L177.94 346.14 L178.72 345.02 L179.51 343.90 L180.30 342.78 L181.09 341.67 L181.88 340.55 L182.68 339.45 L183.48 338.34 L184.28 337.24 L185.09 336.14 L185.89 335.04 L186.70 333.95 L187.52 332.85 L188.33 331.77 L189.15 330.68 L189.97 329.60 L190.79 328.52 L191.61 327.44 L192.44 326.36 L193.27 325.29 L194.10 324.22 L194.94 323.15 L195.77 322.08 L196.61 321.02 L197.45 319.96 L198.30 318.90 L199.14 317.84 L199.99 316.79 L200.84 315.74 L201.69 314.69 L202.55 313.64 L203.41 312.59 L204.27 311.55 L205.13 310.51 L205.99 309.47 L206.86 308.43 L207.73 307.39 L208.60 306.36 L209.48 305.32 L210.35 304.29 L211.23 303.26 L212.11 302.23 L212.99 301.21 L213.88 300.18 L214.76 299.16 L215.65 298.13 L216.54 297.11 L217.44 296.09 L218.33 295.08 L219.23 294.06 L220.13 293.04 L221.03 292.03 L221.94 291.02 L222.84 290.00 L223.75 288.99 L224.66 287.98 L225.57 286.97 L226.49 285.96 L227.40 284.96 L228.32 283.95 L229.24 282.95 L230.17 281.94 L231.09 280.94 L232.02 279.93 L232.94 278.93 L233.88 277.93 L234.81 276.93 L235.74 275.93 L236.68 274.93 L237.62 273.93 L238.56 272.93 L239.50 271.93 L240.45 270.94 L241.40 269.94 L242.35 268.95 L243.31 267.96 L244.26 266.98 L245.23 265.99 L246.19 265.01 L247.16 264.04 L248.13 263.06 L249.11 262.09 L250.09 261.12 L251.08 260.16 L252.07 259.20 L253.07 258.25 L254.06 257.30 L255.07 256.35 L256.08 255.41 L257.09 254.48 L258.11 253.55 L259.14 252.63 L260.17 251.71 L261.21 250.80 L262.25 249.89 L263.30 248.99 L264.36 248.10 L265.42 247.22 L266.49 246.34 L267.57 245.47 L268.65 244.61 L269.74 243.76 L270.83 242.91 L271.94 242.07 L273.05 241.25 L274.17 240.43 L275.30 239.61 L276.43 238.81 L277.57 238.02 L278.72 237.24 L279.88 236.46 L281.05 235.70 L282.22 234.95 L283.40 234.21 L284.59 233.48 L285.79 232.76 L286.99 232.05 L288.20 231.35 L289.41 230.66 L290.63 229.99 L291.86 229.33 L293.09 228.68 L294.32 228.04 L295.57 227.42 L296.82 226.80 L298.07 226.20 L299.33 225.62 L300.59 225.05 L301.85 224.49 L303.12 223.94 L304.40 223.41 L305.68 222.90 L306.96 222.40 L308.24 221.91 L309.53 221.44 L310.83 220.98 L312.12 220.54 L313.42 220.11 L314.72 219.71 L316.02 219.31 L317.32 218.93 L318.63 218.57 L319.94 218.23 L321.25 217.90 L322.56 217.59 L323.87 217.30 L325.18 217.03 L326.50 216.77 L327.81 216.53 L329.13 216.31 L330.44 216.11 L331.76 215.92 L333.07 215.76 L334.39 215.61 L335.70 215.48 L337.01 215.38 L338.32 215.29 L339.64 215.22 L340.95 215.17 L342.25 215.15 L343.56 215.14 L344.87 215.15 L346.17 215.19 L347.47 215.24 L348.77 215.32 L350.07 215.42 L351.36 215.53 L352.65 215.67 L353.94 215.82 L355.23 216.00 L356.52 216.19 L357.80 216.40 L359.08 216.63 L360.36 216.88 L361.63 217.15 L362.91 217.43 L364.18 217.73 L365.45 218.05 L366.71 218.39 L367.97 218.74 L369.23 219.11 L370.49 219.50 L371.74 219.90 L372.99 220.32 L374.24 220.76 L375.49 221.21 L376.73 221.68 L377.97 222.16 L379.20 222.66 L380.43 223.17 L381.66 223.69 L382.89 224.23 L384.11 224.79 L385.33 225.36 L386.54 225.94 L387.75 226.54 L388.96 227.14 L390.17 227.77 L391.37 228.40 L392.57 229.05 L393.76 229.71 L394.95 230.38 L396.13 231.06 L397.32 231.76 L398.49 232.46 L399.67 233.18 L400.84 233.91 L402.00 234.65 L403.17 235.40 L404.32 236.16 L405.48 236.93 L406.63 237.71 L407.77 238.50 L408.91 239.30 L410.05 240.11 L411.18 240.93 L412.31 241.76 L413.43 242.59 L414.55 243.44 L415.66 244.29 L416.77 245.15 L417.87 246.01 L418.97 246.89 L420.07 247.77 L421.16 248.66 L422.24 249.56 L423.32 250.46 L424.40 251.37 L425.47 252.28 L426.53 253.20 L427.59 254.13 L428.65 255.06 L429.69 256.00 L430.74 256.94 L431.78 257.89 L432.81 258.84 L433.84 259.80 L434.86 260.76 L435.88 261.72 L436.89 262.69 L437.89 263.66 L438.89 264.63 L439.89 265.61 L440.88 266.59 L441.86 267.58 L442.84 268.57 L443.82 269.56 L444.79 270.56 L445.75 271.55 L446.71 272.55 L447.67 273.56 L448.62 274.57 L449.56 275.57 L450.51 276.59 L451.44 277.60 L452.38 278.62 L453.31 279.64 L454.23 280.66 L455.15 281.69 L456.07 282.72 L456.98 283.75 L457.89 284.78 L458.80 285.82 L459.70 286.85 L460.60 287.89 L461.49 288.93 L462.39 289.98 L463.27 291.02 L464.16 292.07 L465.04 293.12 L465.92 294.17 L466.80 295.22 L467.67 296.27 L468.54 297.33 L469.41 298.39 L470.28 299.44 L471.14 300.50 L472.00 301.56 L472.86 302.63 L473.72 303.69 L474.57 304.75 L475.42 305.82 L476.27 306.89 L477.12 307.95 L477.97 309.02 L478.81 310.09 L479.65 311.16 L480.50 312.23 L481.33 313.30 L482.17 314.37 L483.01 315.44 L483.85 316.52 L484.68 317.59 L485.51 318.66 L486.35 319.73 L487.18 320.81 L488.01 321.88 L488.84 322.95 L489.67 324.03 L490.49 325.10 L491.32 326.17 L492.15 327.25 L492.98 328.32 L493.80 329.39 L494.63 330.46 L495.46 331.53 L496.28 332.61 L497.11 333.68 L497.94 334.75 L498.76 335.81 L499.59 336.88 L500.42 337.95 L501.25 339.02 L502.08 340.08 L502.90 341.14 L503.73 342.21 L504.57 343.27 L505.40 344.33 L506.23 345.39 L507.06 346.45 L507.90 347.50 L508.73 348.56 L509.57 349.61 L510.41 350.67 L511.25 351.72 L512.09 352.76 L512.94 353.81 L513.78 354.86 L514.63 355.90 L515.47 356.94 L516.32 357.99 L517.17 359.03 L518.03 360.06 L518.88 361.10 L519.73 362.14 L520.59 363.17 L521.45 364.21 L522.31 365.24 L523.17 366.27 L524.03 367.30 L524.90 368.33 L525.76 369.36 L526.63 370.39 L527.50 371.41 L528.37 372.44 L529.24 373.46 L530.11 374.49 L530.98 375.51 L531.86 376.54 L532.74 377.56 L533.61 378.58 L534.49 379.60 L535.38 380.62 L536.26 381.64 L537.14 382.67 L538.03 383.69 L538.92 384.71 L539.80 385.73 L540.69 386.74 L541.59 387.76 L542.48 388.78 L543.37 389.80 L544.27 390.82 L545.17 391.84 L546.06 392.86 L546.96 393.88 L547.87 394.90 L548.77 395.92 L549.67 396.94 L550.58 397.96 L551.49 398.98 L552.40 400.00 L553.31 401.02 L554.22 402.05 L555.13 403.07 L556.05 404.09 L556.96 405.12 L557.88 406.14 L558.80 407.17 L559.72 408.19 L560.64 409.22 L561.57 410.25 L562.49 411.27 L563.42 412.30 L564.34 413.33 L565.27 414.36 L566.20 415.40 L567.14 416.43 L568.07 417.47 L569.00 418.50 L569.94 419.54 L570.88 420.58 L571.82 421.62 L572.76 422.66 L573.70 423.70 L574.64 424.74 L575.59 425.79 L576.53 426.83 L577.48 427.88 L578.43 428.93 L579.38 429.97 L580.34 431.02 L581.29 432.06 L582.25 433.11 L583.21 434.15 L584.17 435.19 L585.13 436.24 L586.10 437.27 L587.07 438.31 L588.04 439.34 L589.01 440.38 L589.99 441.40 L590.97 442.43 L591.95 443.45 L592.93 444.47 L593.92 445.48 L594.91 446.49 L595.90 447.49 L596.90 448.49 L597.89 449.49 L598.90 450.48 L599.90 451.46 L600.91 452.44 L601.92 453.41 L602.94 454.37 L603.95 455.33 L604.98 456.28 L606.00 457.22 L607.03 458.16 L608.06 459.09 L609.10 460.01 L610.14 460.92 L611.19 461.82 L612.24 462.71 L613.29 463.59 L614.35 464.47 L615.41 465.33 L616.47 466.19 L617.54 467.03 L618.62 467.86 L619.70 468.69 L620.78 469.50 L621.87 470.30 L622.96 471.08 L624.06 471.86 L625.16 472.62 L626.27 473.37 L627.38 474.11 L628.50 474.84 L629.62 475.55 L630.75 476.25 L631.88 476.93 L633.02 477.60 L634.16 478.26 L635.31 478.90 L636.47 479.52 L637.63 480.13 L638.79 480.73 L639.96 481.31 L641.14 481.87 L642.32 482.42 L643.51 482.95 L644.71 483.46 L645.91 483.96 L647.12 484.43 L648.33 484.90 L649.55 485.34 L650.78 485.76 L652.01 486.17 L653.25 486.56 L654.49 486.92 L655.75 487.27 L657.00 487.60 L658.27 487.91 L659.54 488.20 L660.82 488.47 L662.10 488.72 L663.39 488.95 L664.69 489.16 L665.99 489.35 L667.30 489.53 L668.61 489.68 L669.92 489.82 L671.24 489.93 L672.57 490.03 L673.89 490.11 L675.22 490.17 L676.56 490.22 L677.90 490.24 L679.24 490.25 L680.58 490.24 L681.93 490.21 L683.27 490.17 L684.62 490.11 L685.97 490.03 L687.33 489.93 L688.68 489.82 L690.04 489.69 L691.39 489.54 L692.75 489.38 L694.10 489.20 L695.46 489.00 L696.82 488.79 L698.17 488.56 L699.53 488.32 L700.88 488.06 L702.23 487.78 L703.58 487.49 L704.93 487.18 L706.28 486.86 L707.62 486.52 L708.97 486.17 L710.31 485.80 L711.64 485.42 L712.98 485.02 L714.31 484.61 L715.64 484.19 L716.96 483.75 L718.28 483.29 L719.59 482.82 L720.90 482.34 L722.21 481.85 L723.51 481.34 L724.80 480.81 L726.09 480.28 L727.38 479.73 L728.65 479.17 L729.92 478.59 L731.19 478.00 L732.45 477.40 L733.70 476.79 L734.94 476.16 L736.18 475.52 L737.41 474.87 L738.63 474.21 L739.84 473.53 L741.04 472.84 L742.24 472.15 L743.42 471.44 L744.60 470.71 L745.77 469.98 L746.93 469.24 L748.07 468.48 L749.21 467.71 L750.34 466.94 L751.46 466.15 L752.57 465.35 L753.68 464.54 L754.77 463.73 L755.86 462.90 L756.93 462.06 L758.00 461.21 L759.06 460.36 L760.11 459.49 L761.16 458.62 L762.19 457.73 L763.22 456.84 L764.24 455.94 L765.26 455.03 L766.26 454.12 L767.26 453.19 L768.26 452.26 L769.24 451.32 L770.22 450.37 L771.20 449.42 L772.16 448.46 L773.12 447.49 L774.08 446.51 L775.03 445.53 L775.97 444.54 L776.91 443.55 L777.84 442.55 L778.77 441.54 L779.69 440.53 L780.61 439.51 L781.52 438.49 L782.42 437.46 L783.33 436.42 L784.22 435.39 L785.12 434.34 L786.01 433.30 L786.89 432.24 L787.78 431.19 L788.65 430.13 L789.53 429.06 L790.40 428.00 L791.27 426.93 L792.13 425.85 L792.99 424.78 L793.85 423.70 L794.71 422.61 L795.56 421.53 L796.41 420.44 L797.26 419.35 L798.11 418.26 L798.96 417.16 L799.80 416.07 L800.64 414.97 L801.48 413.87 L802.32 412.77 L803.16 411.67 L803.99 410.57 L804.83 409.47 L805.66 408.36 L806.50 407.26 L807.33 406.15 L808.16 405.05 L808.99 403.95 L809.83 402.84 L810.66 401.74 L811.49 400.64 L812.32 399.54 L813.16 398.44 L813.99 397.34 L814.83 396.24 L815.66 395.15 L816.50 394.05 L817.34 392.96 L818.18 391.87 L819.02 390.78 L819.86 389.69 L820.70 388.61 L821.55 387.53 L822.40 386.45 L823.25 385.38 L824.10 384.31 L824.96 383.24 L825.81 382.18 L826.67 381.12 L827.54 380.06 L828.40 379.01 L829.27 377.96 L830.15 376.91 L831.02 375.88 L831.90 374.84 L832.79 373.81 L833.68 372.79 L834.57 371.77 L835.46 370.76 L836.36 369.75 L837.27 368.75 L838.18 367.75 L839.09 366.76 L840.01 365.78 L840.94 364.80 L841.87 363.83 L842.80 362.87 L843.74 361.92 L844.69 360.97 L845.64 360.03 L846.60 359.09 L847.57 358.17 L848.54 357.25 L849.51 356.34 L850.50 355.44 L851.49 354.54 L852.48 353.66 L853.49 352.78 L854.50 351.92 L855.52 351.06" stroke="#000" stroke-width="3.0" fill="none" stroke-linejoin="round"/>
<path d="M61.51 355.44 L61.63 355.78 L61.76 356.12 L61.88 356.46 L62.00 356.80 L62.13 357.14 L62.25 357.48 L62.37 357.82 L62.49 358.16 L62.61 358.50 L62.74 358.84 L62.86 359.17 L62.98 359.51 L63.10 359.85 L63.22 360.18 L63.34 360.52 L63.46 360.86 L63.58 361.19 L63.70 361.53 L63.81 361.86 L63.93 362.20 L64.05 362.53 L64.17 362.87 L64.29 363.20 L64.40 363.54 L64.52 363.87 L64.64 364.20 L64.76 364.53 L64.87 364.87 L64.99 365.20 L65.10 365.53 L65.22 365.86 L65.34 366.19 L65.45 366.52 L65.57 366.85 L65.68 367.19 L65.80 367.52 L65.91 367.85 L66.03 368.18 L66.14 368.50 L66.25 368.83 L66.37 369.16 L66.48 369.49 L66.60 369.82 L66.71 370.15 L66.82 370.48 L66.94 370.80 L67.05 371.13 L67.16 371.46 L67.27 371.79 L67.39 372.11 L67.50 372.44 L67.61 372.77 L67.72 373.09 L67.83 373.42 L67.95 373.75 L68.06 374.07 L68.17 374.40 L68.28 374.72 L68.39 375.05 L68.50 375.37 L68.61 375.70 L68.73 376.02 L68.84 376.35 L68.95 376.67 L69.06 377.00 L69.17 377.32 L69.28 377.64 L69.39 377.97 L69.50 378.29 L69.61 378.62 L69.72 378.94 L69.83 379.26 L69.94 379.59 L70.05 379.91 L70.16 380.23 L70.27 380.56 L70.38 380.88 L70.49 381.20 L70.60 381.53 L70.71 381.85 L70.82 382.17 L70.93 382.49 L71.04 382.82 L71.15 383.14 L71.26 383.46 L71.37 383.78 L71.48 384.11 L71.59 384.43 L71.70 384.75 L71.81 385.07 L71.92 385.39 L72.03 385.72 L72.14 386.04 L72.24 386.36 L72.35 386.68 L72.46 387.00 L72.57 387.33 L72.68 387.65 L72.79 387.97 L72.90 388.29 L73.01 388.61 L73.12 388.94 L73.23 389.26 L73.34 389.58 L73.45 389.90 L73.56 390.22 L73.67 390.55 L73.78 390.87 L73.89 391.19 L74.00 391.51 L74.12 391.84 L74.23 392.16 L74.34 392.48 L74.45 392.80 L74.56 393.12 L74.67 393.45 L74.78 393.77 L74.89 394.09 L75.00 394.42 L75.11 394.74 L75.23 395.06 L75.34 395.38 L75.45 395.71 L75.56 396.03 L75.67 396.35 L75.78 396.68 L75.90 397.00 L76.01 397.32 L76.12 397.65 L76.23 397.97 L76.35 398.30 L76.46 398.62 L76.57 398.94 L76.69 399.27 L76.80 399.59 L76.91 399.92 L77.03 400.24 L77.14 400.57 L77.26 400.89 L77.37 401.22 L77.49 401.54 L77.60 401.87 L77.72 402.19 L77.83 402.52 L77.95 402.85 L78.06 403.17 L78.18 403.50 L78.29 403.83 L78.41 404.15 L78.53 404.48 L78.64 404.81 L78.76 405.13 L78.88 405.46 L79.00 405.79 L79.11 406.12 L79.23 406.45 L79.35 406.78 L79.47 407.10 L79.59 407.43 L79.71 407.76 L79.83 408.09 L79.94 408.42 L80.06 408.75 L80.18 409.08 L80.30 409.41 L80.43 409.74 L80.55 410.08 L80.67 410.41 L80.79 410.74 L80.91 411.07 L81.03 411.40 L81.16 411.74 L81.28 412.07 L81.40 412.40 L81.52 412.74 L81.65 413.07 L81.77 413.40 L81.90 413.74 L82.02 414.07 L82.15 414.41 L82.27 414.74 L82.40 415.08 L82.52 415.41 L82.65 415.75 L82.78 416.09 L82.90 416.42 L83.03 416.76 L83.16 417.10 L83.29 417.44 L83.42 417.78 L83.55 418.12 L83.68 418.45 L83.81 418.79 L83.94 419.13 L84.07 419.47 L84.20 419.82 L84.33 420.16 L84.46 420.50 L84.59 420.84 L84.73 421.18 L84.86 421.52 L85.00 421.86 L85.13 422.20 L85.27 422.54 L85.40 422.88 L85.54 423.22 L85.68 423.56 L85.82 423.90 L85.96 424.24 L86.10 424.58 L86.24 424.92 L86.38 425.26 L86.52 425.60 L86.67 425.94 L86.81 426.27 L86.96 426.61 L87.11 426.94 L87.26 427.28 L87.40 427.61 L87.56 427.95 L87.71 428.28 L87.86 428.61 L88.01 428.94 L88.17 429.27 L88.33 429.60 L88.48 429.92 L88.64 430.25 L88.80 430.58 L88.97 430.90 L89.13 431.22 L89.29 431.54 L89.46 431.86 L89.63 432.18 L89.80 432.50 L89.97 432.82 L90.14 433.13 L90.31 433.44 L90.49 433.75 L90.67 434.06 L90.84 434.37 L91.02 434.68 L91.21 434.98 L91.39 435.28 L91.58 435.58 L91.76 435.88 L91.95 436.18 L92.14 436.47 L92.34 436.76 L92.53 437.06 L92.73 437.34 L92.93 437.63 L93.13 437.91 L93.33 438.20 L93.54 438.47 L93.74 438.75 L93.95 439.03 L94.16 439.30 L94.38 439.57 L94.59 439.84 L94.81 440.10 L95.03 440.36 L95.25 440.62 L95.48 440.88 L95.70 441.13 L95.93 441.38 L96.16 441.63 L96.40 441.88 L96.63 442.12 L96.87 442.36 L97.11 442.59 L97.36 442.83 L97.60 443.06 L97.85 443.29 L98.11 443.51 L98.36 443.73 L98.62 443.95 L98.88 444.16 L99.14 444.37 L99.40 444.58 L99.67 444.78 L99.94 444.99 L100.21 445.18 L100.48 445.38 L100.76 445.57 L101.04 445.75 L101.32 445.94 L101.60 446.12 L101.88 446.29 L102.17 446.46 L102.46 446.63 L102.75 446.80 L103.04 446.96 L103.33 447.12 L103.63 447.27 L103.93 447.42 L104.23 447.57 L104.53 447.71 L104.83 447.84 L105.13 447.98 L105.44 448.11 L105.75 448.23 L106.05 448.36 L106.36 448.47 L106.68 448.59 L106.99 448.70 L107.30 448.80 L107.62 448.90 L107.93 449.00 L108.25 449.09 L108.57 449.18 L108.89 449.27 L109.21 449.35 L109.53 449.42 L109.85 449.49 L110.17 449.56 L110.50 449.62 L110.82 449.68 L111.15 449.73 L111.47 449.78 L111.80 449.82 L112.13 449.86 L112.46 449.89 L112.78 449.92 L113.11 449.95 L113.44 449.97 L113.77 449.98 L114.10 449.99 L114.43 450.00 L114.76 450.00 L115.09 449.99 L115.42 449.99 L115.75 449.97 L116.08 449.95 L116.42 449.93 L116.75 449.90 L117.08 449.87 L117.41 449.83 L117.74 449.79 L118.07 449.74 L118.40 449.69 L118.73 449.63 L119.06 449.57 L119.39 449.51 L119.72 449.44 L120.05 449.37 L120.37 449.29 L120.70 449.21 L121.03 449.12 L121.35 449.03 L121.68 448.93 L122.00 448.84 L122.33 448.73 L122.65 448.63 L122.97 448.52 L123.30 448.40 L123.62 448.28 L123.94 448.16 L124.26 448.03 L124.57 447.90 L124.89 447.77 L125.21 447.63 L125.52 447.49 L125.83 447.35 L126.15 447.20 L126.46 447.05 L126.77 446.89 L127.08 446.73 L127.38 446.57 L127.69 446.40 L127.99 446.23 L128.29 446.06 L128.60 445.89 L128.89 445.71 L129.19 445.53 L129.49 445.34 L129.78 445.15 L130.08 444.96 L130.37 444.77 L130.65 444.57 L130.94 444.37 L131.23 444.16 L131.51 443.96 L131.79 443.75 L132.07 443.54 L132.35 443.32 L132.62 443.10 L132.89 442.88 L133.16 442.66 L133.43 442.44 L133.70 442.21 L133.96 441.98 L134.22 441.74 L134.48 441.51 L134.74 441.27 L134.99 441.03 L135.24 440.79 L135.49 440.54 L135.74 440.30 L135.98 440.05 L136.23 439.79 L136.47 439.54 L136.71 439.28 L136.94 439.03 L137.18 438.76 L137.41 438.50 L137.64 438.24 L137.87 437.97 L138.09 437.70 L138.31 437.43 L138.54 437.16 L138.76 436.88 L138.97 436.61 L139.19 436.33 L139.40 436.05 L139.61 435.77 L139.83 435.49 L140.03 435.20 L140.24 434.91 L140.44 434.63 L140.65 434.33 L140.85 434.04 L141.05 433.75 L141.25 433.46 L141.44 433.16 L141.64 432.86 L141.83 432.56 L142.02 432.26 L142.21 431.96 L142.40 431.66 L142.58 431.35 L142.77 431.05 L142.95 430.74 L143.13 430.43 L143.31 430.12 L143.49 429.81 L143.67 429.50 L143.85 429.19 L144.02 428.88 L144.20 428.56 L144.37 428.25 L144.54 427.93 L144.71 427.61 L144.88 427.29 L145.04 426.97 L145.21 426.65 L145.37 426.33 L145.54 426.01 L145.70 425.69 L145.86 425.37 L146.02 425.04 L146.18 424.72 L146.34 424.39 L146.49 424.07 L146.65 423.74 L146.81 423.42 L146.96 423.09 L147.11 422.76 L147.26 422.43 L147.42 422.11 L147.57 421.78 L147.72 421.45 L147.86 421.12 L148.01 420.79 L148.16 420.46 L148.31 420.13 L148.45 419.80 L148.60 419.47 L148.74 419.14 L148.88 418.81 L149.03 418.48 L149.17 418.15 L149.31 417.82 L149.45 417.49 L149.59 417.16 L149.73 416.83 L149.87 416.50 L150.01 416.17 L150.15 415.84 L150.29 415.51 L150.42 415.18 L150.56 414.86 L150.70 414.53 L150.83 414.20 L150.97 413.87 L151.10 413.54 L151.24 413.22 L151.37 412.89 L151.51 412.56 L151.64 412.23 L151.77 411.91 L151.91 411.58 L152.04 411.25 L152.17 410.93 L152.30 410.60 L152.43 410.27 L152.56 409.95 L152.69 409.62 L152.82 409.30 L152.95 408.97 L153.08 408.64 L153.21 408.32 L153.34 407.99 L153.47 407.67 L153.59 407.34 L153.72 407.02 L153.85 406.69 L153.97 406.37 L154.10 406.05 L154.22 405.72 L154.35 405.40 L154.48 405.07 L154.60 404.75 L154.72 404.43 L154.85 404.10 L154.97 403.78 L155.10 403.45 L155.22 403.13 L155.34 402.81 L155.46 402.48 L155.59 402.16 L155.71 401.84 L155.83 401.52 L155.95 401.19 L156.07 400.87 L156.19 400.55 L156.31 400.22 L156.43 399.90 L156.55 399.58 L156.67 399.26 L156.79 398.93 L156.91 398.61 L157.03 398.29 L157.15 397.97 L157.27 397.65 L157.39 397.32 L157.51 397.00 L157.62 396.68 L157.74 396.36 L157.86 396.04 L157.98 395.71 L158.09 395.39 L158.21 395.07 L158.33 394.75 L158.44 394.43 L158.56 394.10 L158.68 393.78 L158.79 393.46 L158.91 393.14 L159.02 392.82 L159.14 392.50 L159.25 392.17 L159.37 391.85 L159.48 391.53 L159.60 391.21 L159.71 390.89 L159.83 390.57 L159.94 390.24 L160.06 389.92 L160.17 389.60 L160.29 389.28 L160.40 388.96 L160.51 388.64 L160.63 388.31 L160.74 387.99 L160.85 387.67 L160.97 387.35 L161.08 387.03 L161.20 386.70 L161.31 386.38 L161.42 386.06 L161.54 385.74 L161.65 385.42 L161.76 385.09 L161.87 384.77 L161.99 384.45 L162.10 384.13 L162.21 383.81 L162.33 383.48 L162.44 383.16 L162.55 382.84 L162.66 382.52 L162.78 382.19 L162.89 381.87 L163.00 381.55 L163.12 381.22 L163.23 380.90 L163.34 380.58 L163.45 380.25 L163.57 379.93 L163.68 379.61 L163.79 379.28 L163.91 378.96 L164.02 378.64 L164.13 378.31 L164.24 377.99 L164.36 377.66 L164.47 377.34 L164.58 377.02 L164.70 376.69 L164.81 376.37 L164.92 376.04 L165.04 375.72 L165.15 375.39 L165.27 375.07 L165.38 374.74 L165.49 374.42 L165.61 374.09 L165.72 373.77 L165.83 373.44 L165.95 373.11 L166.06 372.79 L166.18 372.46 L166.29 372.14 L166.41 371.81 L166.52 371.48 L166.64 371.16 L166.75 370.83 L166.87 370.50 L166.98 370.17 L167.10 369.85 L167.21 369.52 L167.33 369.19 L167.45 368.86 L167.56 368.53 L167.68 368.21 L167.80 367.88 L167.91 367.55 L168.03 367.22 L168.15 366.89 L168.27 366.56 L168.38 366.23 L168.50 365.90 L168.62 365.57 L168.74 365.24 L168.86 364.91 L168.97 364.58 L169.09 364.25 L169.21 363.92 L169.33 363.59 L169.45 363.25 L169.57 362.92 L169.69 362.59 L169.81 362.26 L169.93 361.92 L170.05 361.59 L170.18 361.26 L170.30 360.93 L170.42 360.59 L170.54 360.26 L170.66 359.92 L170.79 359.59 L170.91 359.25 L171.03 358.92 L171.16 358.58 L171.28 358.25 L171.41 357.91 L171.53 357.58 L171.65 357.24 L171.78 356.90 L171.91 356.57 L172.03 356.23 L172.16 355.89 L172.28 355.56 L172.41 355.22 L173.23 354.97 L173.40 354.06 L173.57 353.16 L173.74 352.25 L173.91 351.35 L174.09 350.45 L174.26 349.54 L174.44 348.64 L174.63 347.74 L174.81 346.84 L175.00 345.94 L175.18 345.04 L175.37 344.14 L175.57 343.24 L175.76 342.35 L175.96 341.45 L176.15 340.55 L176.35 339.66 L176.56 338.77 L176.76 337.87 L176.97 336.98 L177.17 336.09 L177.38 335.19 L177.60 334.30 L177.81 333.41 L178.03 332.52 L178.24 331.63 L178.46 330.75 L178.68 329.86 L178.91 328.97 L179.13 328.09 L179.36 327.20 L179.58 326.31 L179.81 325.43 L180.05 324.54 L180.28 323.66 L180.51 322.78 L180.75 321.90 L180.99 321.01 L181.23 320.13 L181.47 319.25 L181.71 318.37 L181.96 317.49 L182.20 316.61 L182.45 315.73 L182.70 314.86 L182.95 313.98 L183.20 313.10 L183.45 312.23 L183.71 311.35 L183.96 310.47 L184.22 309.60 L184.48 308.72 L184.74 307.85 L185.00 306.98 L185.27 306.10 L185.53 305.23 L185.80 304.36 L186.06 303.49 L186.33 302.61 L186.60 301.74 L186.87 300.87 L187.14 300.00 L187.42 299.13 L187.69 298.26 L187.97 297.39 L188.24 296.53 L188.52 295.66 L188.80 294.79 L189.08 293.92 L189.36 293.06 L189.64 292.19 L189.93 291.32 L190.21 290.46 L190.50 289.59 L190.78 288.73 L191.07 287.86 L191.36 287.00 L191.65 286.13 L191.94 285.27 L192.23 284.40 L192.52 283.54 L192.81 282.68 L193.11 281.82 L193.40 280.95 L193.70 280.09 L193.99 279.23 L194.29 278.37 L194.59 277.51 L194.88 276.64 L195.18 275.78 L195.48 274.92 L195.78 274.06 L196.08 273.20 L196.39 272.34 L196.69 271.48 L196.99 270.62 L197.30 269.76 L197.60 268.91 L197.91 268.05 L198.21 267.19 L198.52 266.33 L198.82 265.47 L199.13 264.61 L199.44 263.76 L199.75 262.90 L200.06 262.04 L200.36 261.18 L200.67 260.32 L200.98 259.47 L201.29 258.61 L201.60 257.75 L201.92 256.90 L202.23 256.04 L202.54 255.18 L202.85 254.33 L203.16 253.47 L203.48 252.61 L203.79 251.76 L204.10 250.90 L204.41 250.05 L204.73 249.19 L205.04 248.33 L205.36 247.48 L205.67 246.62 L205.98 245.77 L206.30 244.91 L206.61 244.05 L206.93 243.20 L207.24 242.34 L207.56 241.49 L207.87 240.63 L208.18 239.78 L208.50 238.92 L208.81 238.07 L209.13 237.21 L209.44 236.35 L209.76 235.50 L210.07 234.64 L210.39 233.79 L210.70 232.93 L211.01 232.07 L211.33 231.22 L211.64 230.36 L211.96 229.51 L212.27 228.65 L212.58 227.79 L212.89 226.94 L213.21 226.08 L213.52 225.22 L213.83 224.37 L214.14 223.51 L214.45 222.65 L214.77 221.80 L215.08 220.94 L215.39 220.08 L215.70 219.23 L216.01 218.37 L216.32 217.51 L216.62 216.65 L216.93 215.79 L217.24 214.94 L217.55 214.08 L217.85 213.22 L218.16 212.36 L218.47 211.50 L218.77 210.64 L219.08 209.78 L219.38 208.92 L219.68 208.06 L219.98 207.20 L220.29 206.34 L220.59 205.48 L220.89 204.62 L221.19 203.76 L221.49 202.90 L221.79 202.04 L222.08 201.17 L222.38 200.31 L222.68 199.45 L222.97 198.59 L223.27 197.72 L223.56 196.86 L223.85 196.00 L224.15 195.13 L224.44 194.27 L224.73 193.41 L225.02 192.54 L225.30 191.68 L225.59 190.81 L225.88 189.94 L226.16 189.08 L226.45 188.21 L226.73 187.34 L227.01 186.48 L227.29 185.61 L227.57 184.74 L227.85 183.87 L228.13 183.00 L228.41 182.14 L228.69 181.27 L228.96 180.40 L229.24 179.53 L229.51 178.66 L229.79 177.79 L230.06 176.92 L230.34 176.05 L230.61 175.18 L230.88 174.31 L231.16 173.44 L231.43 172.56 L231.70 171.69 L231.98 170.82 L232.25 169.95 L232.53 169.08 L232.80 168.21 L233.08 167.34 L233.35 166.48 L233.63 165.61 L233.91 164.74 L234.19 163.87 L234.47 163.00 L234.75 162.13 L235.03 161.27 L235.31 160.40 L235.59 159.53 L235.88 158.67 L236.17 157.80 L236.45 156.93 L236.74 156.07 L237.03 155.21 L237.33 154.34 L237.62 153.48 L237.92 152.62 L238.22 151.76 L238.52 150.90 L238.82 150.04 L239.12 149.18 L239.43 148.32 L239.74 147.46 L240.05 146.60 L240.37 145.75 L240.68 144.89 L241.00 144.04 L241.32 143.19 L241.65 142.34 L241.98 141.48 L242.31 140.64 L242.64 139.79 L242.98 138.94 L243.32 138.09 L243.66 137.25 L244.01 136.40 L244.36 135.56 L244.71 134.72 L245.07 133.88 L245.43 133.04 L245.80 132.20 L246.17 131.37 L246.54 130.53 L246.92 129.70 L247.30 128.87 L247.68 128.04 L248.07 127.21 L248.46 126.38 L248.86 125.56 L249.26 124.73 L249.67 123.91 L250.08 123.09 L250.50 122.27 L250.92 121.45 L251.35 120.64 L251.78 119.82 L252.21 119.01 L252.65 118.20 L253.10 117.39 L253.55 116.58 L254.01 115.78 L254.47 114.98 L254.94 114.18 L255.41 113.38 L255.89 112.58 L256.37 111.79 L256.86 110.99 L257.36 110.20 L257.86 109.42 L258.37 108.63 L258.88 107.85 L259.40 107.06 L259.93 106.29 L260.46 105.51 L261.00 104.73 L261.55 103.96 L262.10 103.19 L262.66 102.42 L263.23 101.66 L263.80 100.90 L264.38 100.14 L264.97 99.38 L265.56 98.63 L266.16 97.89 L266.77 97.15 L267.38 96.42 L268.00 95.69 L268.62 94.98 L269.25 94.27 L269.89 93.58 L270.53 92.90 L271.18 92.23 L271.83 91.57 L272.49 90.92 L273.15 90.29 L273.82 89.67 L274.50 89.07 L275.18 88.49 L275.86 87.92 L276.56 87.38 L277.25 86.85 L277.95 86.34 L278.66 85.85 L279.37 85.38 L280.08 84.93 L280.80 84.51 L281.52 84.11 L282.25 83.73 L282.98 83.38 L283.72 83.06 L284.46 82.76 L285.20 82.49 L285.95 82.24 L286.70 82.03 L287.45 81.85 L288.21 81.69 L288.97 81.57 L289.74 81.48 L290.51 81.42 L291.28 81.40 L292.06 81.41 L292.83 81.46 L293.61 81.53 L294.40 81.65 L295.18 81.79 L295.96 81.96 L296.75 82.17 L297.53 82.40 L298.31 82.67 L299.09 82.96 L299.87 83.28 L300.64 83.62 L301.41 83.99 L302.18 84.39 L302.94 84.81 L303.70 85.25 L304.45 85.72 L305.20 86.21 L305.94 86.72 L306.67 87.25 L307.40 87.79 L308.11 88.36 L308.82 88.95 L309.52 89.55 L310.20 90.17 L310.88 90.81 L311.54 91.46 L312.20 92.12 L312.84 92.80 L313.47 93.49 L314.08 94.20 L314.68 94.91 L315.27 95.63 L315.84 96.37 L316.40 97.11 L316.95 97.87 L317.48 98.63 L318.00 99.40 L318.51 100.19 L319.01 100.98 L319.49 101.77 L319.97 102.58 L320.43 103.39 L320.89 104.21 L321.33 105.04 L321.76 105.87 L322.19 106.71 L322.61 107.56 L323.02 108.41 L323.42 109.26 L323.81 110.13 L324.19 110.99 L324.57 111.86 L324.95 112.74 L325.31 113.62 L325.67 114.50 L326.02 115.38 L326.37 116.27 L326.72 117.16 L327.06 118.05 L327.39 118.95 L327.72 119.84 L328.05 120.74 L328.38 121.64 L328.70 122.54 L329.02 123.44 L329.34 124.33 L329.66 125.23 L329.97 126.13 L330.28 127.03 L330.60 127.93 L330.91 128.82 L331.23 129.71 L331.54 130.61 L331.85 131.50 L332.16 132.39 L332.47 133.28 L332.78 134.17 L333.09 135.05 L333.40 135.94 L333.71 136.82 L334.02 137.71 L334.33 138.59 L334.64 139.47 L334.94 140.35 L335.25 141.23 L335.56 142.11 L335.86 142.99 L336.17 143.86 L336.48 144.74 L336.78 145.61 L337.09 146.49 L337.39 147.36 L337.69 148.23 L338.00 149.10 L338.30 149.97 L338.61 150.84 L338.91 151.71 L339.21 152.58 L339.51 153.45 L339.82 154.31 L340.12 155.18 L340.42 156.04 L340.72 156.91 L341.02 157.77 L341.32 158.63 L341.62 159.49 L341.92 160.36 L342.22 161.22 L342.52 162.08 L342.82 162.94 L343.12 163.79 L343.42 164.65 L343.72 165.51 L344.02 166.37 L344.32 167.22 L344.61 168.08 L344.91 168.94 L345.21 169.79 L345.51 170.65 L345.80 171.50 L346.10 172.35 L346.40 173.21 L346.70 174.06 L346.99 174.91 L347.29 175.76 L347.59 176.62 L347.88 177.47 L348.18 178.32 L348.48 179.17 L348.77 180.02 L349.07 180.87 L349.37 181.72 L349.66 182.57 L349.96 183.42 L350.26 184.27 L350.55 185.12 L350.85 185.97 L351.14 186.82 L351.44 187.66 L351.74 188.51 L352.03 189.36 L352.33 190.21 L352.62 191.06 L352.92 191.90 L353.22 192.75 L353.51 193.60 L353.81 194.45 L354.10 195.30 L354.40 196.14 L354.70 196.99 L354.99 197.84 L355.29 198.69 L355.58 199.54 L355.88 200.38 L356.18 201.23 L356.47 202.08 L356.77 202.93 L357.07 203.78 L357.37 204.63 L357.66 205.48 L357.96 206.32 L358.26 207.17 L358.55 208.02 L358.85 208.87 L359.15 209.72 L359.45 210.57 L359.75 211.42 L360.04 212.27 L360.34 213.13 L360.64 213.98 L360.94 214.83 L361.24 215.68 L361.54 216.53 L361.84 217.39 L362.14 218.24 L362.44 219.09 L362.74 219.95 L363.04 220.80 L363.34 221.66 L363.64 222.51 L363.94 223.37 L364.24 224.23 L364.54 225.08 L364.85 225.94 L365.15 226.80 L365.45 227.66 L365.75 228.51 L366.05 229.37 L366.35 230.23 L366.65 231.09 L366.96 231.95 L367.26 232.81 L367.56 233.67 L367.86 234.53 L368.16 235.39 L368.46 236.25 L368.76 237.11 L369.07 237.98 L369.37 238.84 L369.67 239.70 L369.97 240.56 L370.27 241.43 L370.57 242.29 L370.87 243.16 L371.17 244.02 L371.47 244.89 L371.77 245.75 L372.07 246.62 L372.37 247.48 L372.67 248.35 L372.97 249.21 L373.27 250.08 L373.56 250.95 L373.86 251.81 L374.16 252.68 L374.46 253.55 L374.75 254.42 L375.05 255.29 L375.34 256.15 L375.64 257.02 L375.94 257.89 L376.23 258.76 L376.52 259.63 L376.82 260.50 L377.11 261.37 L377.41 262.24 L377.70 263.11 L377.99 263.98 L378.28 264.85 L378.57 265.73 L378.86 266.60 L379.15 267.47 L379.44 268.34 L379.73 269.21 L380.02 270.09 L380.30 270.96 L380.59 271.83 L380.88 272.71 L381.16 273.58 L381.45 274.45 L381.73 275.33 L382.01 276.20 L382.30 277.08 L382.58 277.95 L382.86 278.82 L383.14 279.70 L383.42 280.57 L383.70 281.45 L383.98 282.33 L384.25 283.20 L384.53 284.08 L384.81 284.95 L385.08 285.83 L385.35 286.71 L385.63 287.58 L385.90 288.46 L386.17 289.34 L386.44 290.21 L386.71 291.09 L386.98 291.97 L387.24 292.85 L387.51 293.72 L387.78 294.60 L388.04 295.48 L388.30 296.36 L388.57 297.24 L388.83 298.11 L389.09 298.99 L389.35 299.87 L389.60 300.75 L389.86 301.63 L390.12 302.51 L390.37 303.39 L390.62 304.27 L390.88 305.15 L391.13 306.03 L391.38 306.91 L391.63 307.78 L391.87 308.66 L392.12 309.54 L392.36 310.42 L392.61 311.30 L392.85 312.18 L393.09 313.07 L393.33 313.95 L393.57 314.83 L393.81 315.71 L394.04 316.59 L394.28 317.47 L394.51 318.35 L394.74 319.23 L394.97 320.11 L395.20 320.99 L395.43 321.87 L395.65 322.75 L395.88 323.63 L396.10 324.51 L396.32 325.40 L396.54 326.28 L396.76 327.16 L396.98 328.04 L397.19 328.92 L397.41 329.80 L397.62 330.68 L397.83 331.56 L398.04 332.45 L398.25 333.33 L398.45 334.21 L398.66 335.09 L398.86 335.97 L399.06 336.85 L399.26 337.73 L399.46 338.62 L399.65 339.50 L399.85 340.38 L400.04 341.26 L400.23 342.14 L400.42 343.02 L400.60 343.90 L400.79 344.78 L400.97 345.67 L401.16 346.55 L401.33 347.43 L401.51 348.31 L401.69 349.19 L401.86 350.07 L402.06 353.28 L402.13 353.64 L402.20 354.01 L402.26 354.37 L402.33 354.73 L402.40 355.08 L402.47 355.44 L402.54 355.80 L402.61 356.16 L402.68 356.52 L402.75 356.87 L402.82 357.23 L402.89 357.58 L402.96 357.94 L403.03 358.29 L403.10 358.65 L403.18 359.00 L403.25 359.35 L403.32 359.71 L403.40 360.06 L403.47 360.41 L403.55 360.76 L403.62 361.11 L403.70 361.46 L403.78 361.81 L403.85 362.16 L403.93 362.51 L404.01 362.85 L404.09 363.20 L404.17 363.55 L404.25 363.90 L404.32 364.24 L404.40 364.59 L404.49 364.93 L404.57 365.28 L404.65 365.62 L404.73 365.97 L404.81 366.31 L404.89 366.65 L404.98 367.00 L405.06 367.34 L405.14 367.68 L405.23 368.02 L405.31 368.37 L405.40 368.71 L405.48 369.05 L405.57 369.39 L405.66 369.73 L405.74 370.07 L405.83 370.41 L405.92 370.74 L406.01 371.08 L406.09 371.42 L406.18 371.76 L406.27 372.10 L406.36 372.43 L406.45 372.77 L406.54 373.11 L406.63 373.44 L406.73 373.78 L406.82 374.11 L406.91 374.45 L407.00 374.79 L407.10 375.12 L407.19 375.45 L407.28 375.79 L407.38 376.12 L407.47 376.46 L407.57 376.79 L407.66 377.12 L407.76 377.46 L407.85 377.79 L407.95 378.12 L408.05 378.45 L408.14 378.79 L408.24 379.12 L408.34 379.45 L408.44 379.78 L408.54 380.11 L408.64 380.44 L408.74 380.77 L408.84 381.10 L408.94 381.43 L409.04 381.76 L409.14 382.09 L409.24 382.42 L409.34 382.75 L409.44 383.08 L409.55 383.41 L409.65 383.74 L409.75 384.07 L409.86 384.40 L409.96 384.73 L410.06 385.05 L410.17 385.38 L410.27 385.71 L410.38 386.04 L410.49 386.37 L410.59 386.70 L410.70 387.02 L410.81 387.35 L410.91 387.68 L411.02 388.01 L411.13 388.33 L411.24 388.66 L411.35 388.99 L411.45 389.31 L411.56 389.64 L411.67 389.97 L411.78 390.30 L411.89 390.62 L412.01 390.95 L412.12 391.28 L412.23 391.60 L412.34 391.93 L412.45 392.26 L412.56 392.58 L412.68 392.91 L412.79 393.24 L412.90 393.56 L413.02 393.89 L413.13 394.21 L413.25 394.54 L413.36 394.87 L413.48 395.19 L413.59 395.52 L413.71 395.85 L413.83 396.17 L413.94 396.50 L414.06 396.83 L414.18 397.15 L414.29 397.48 L414.41 397.81 L414.53 398.13 L414.65 398.46 L414.77 398.79 L414.89 399.11 L415.01 399.44 L415.13 399.77 L415.25 400.10 L415.37 400.42 L415.49 400.75 L415.61 401.08 L415.73 401.41 L415.85 401.73 L415.97 402.06 L416.10 402.39 L416.22 402.72 L416.34 403.05 L416.46 403.37 L416.59 403.70 L416.71 404.03 L416.84 404.36 L416.96 404.69 L417.09 405.02 L417.21 405.35 L417.34 405.68 L417.46 406.00 L417.59 406.33 L417.71 406.66 L417.84 406.99 L417.97 407.32 L418.09 407.65 L418.22 407.99 L418.35 408.32 L418.48 408.65 L418.61 408.98 L418.73 409.31 L418.86 409.64 L418.99 409.97 L419.12 410.31 L419.25 410.64 L419.38 410.97 L419.51 411.30 L419.64 411.64 L419.77 411.97 L419.90 412.30 L420.04 412.64 L420.17 412.97 L420.30 413.31 L420.43 413.64 L420.56 413.97 L420.70 414.31 L420.83 414.65 L420.96 414.98 L421.10 415.32 L421.23 415.65 L421.36 415.99 L421.50 416.33 L421.63 416.66 L421.77 417.00 L421.90 417.34 L422.04 417.68 L422.18 418.02 L422.31 418.36 L422.45 418.69 L422.58 419.03 L422.72 419.37 L422.86 419.71 L423.00 420.05 L423.14 420.39 L423.28 420.73 L423.42 421.07 L423.56 421.41 L423.70 421.75 L423.84 422.08 L423.98 422.42 L424.13 422.76 L424.27 423.10 L424.41 423.43 L424.56 423.77 L424.71 424.11 L424.85 424.44 L425.00 424.78 L425.15 425.11 L425.30 425.45 L425.45 425.78 L425.60 426.11 L425.76 426.44 L425.91 426.77 L426.07 427.10 L426.22 427.43 L426.38 427.76 L426.54 428.09 L426.70 428.41 L426.86 428.74 L427.02 429.06 L427.19 429.39 L427.35 429.71 L427.52 430.03 L427.69 430.35 L427.86 430.67 L428.03 430.98 L428.20 431.30 L428.37 431.61 L428.55 431.92 L428.73 432.23 L428.90 432.54 L429.08 432.85 L429.27 433.16 L429.45 433.46 L429.63 433.77 L429.82 434.07 L430.01 434.37 L430.20 434.66 L430.39 434.96 L430.59 435.25 L430.78 435.55 L430.98 435.84 L431.18 436.12 L431.38 436.41 L431.59 436.69 L431.79 436.98 L432.00 437.26 L432.21 437.53 L432.42 437.81 L432.64 438.08 L432.85 438.35 L433.07 438.62 L433.29 438.88 L433.51 439.15 L433.74 439.41 L433.97 439.67 L434.20 439.92 L434.43 440.18 L434.66 440.43 L434.90 440.67 L435.14 440.92 L435.38 441.16 L435.63 441.40 L435.87 441.64 L436.12 441.87 L436.38 442.10 L436.63 442.33 L436.89 442.55 L437.15 442.77 L437.41 442.99 L437.68 443.21 L437.94 443.42 L438.21 443.63 L438.49 443.84 L438.76 444.04 L439.04 444.24 L439.32 444.43 L439.60 444.63 L439.88 444.82 L440.17 445.00 L440.46 445.18 L440.75 445.36 L441.04 445.54 L441.33 445.71 L441.63 445.88 L441.93 446.04 L442.23 446.20 L442.53 446.36 L442.83 446.51 L443.14 446.66 L443.44 446.81 L443.75 446.95 L444.06 447.09 L444.37 447.22 L444.69 447.35 L445.00 447.48 L445.32 447.60 L445.63 447.72 L445.95 447.84 L446.27 447.95 L446.59 448.05 L446.92 448.15 L447.24 448.25 L447.57 448.34 L447.89 448.43 L448.22 448.52 L448.55 448.60 L448.88 448.67 L449.21 448.74 L449.54 448.81 L449.87 448.87 L450.20 448.93 L450.54 448.98 L450.87 449.03 L451.21 449.08 L451.54 449.12 L451.88 449.15 L452.22 449.18 L452.55 449.21 L452.89 449.23 L453.23 449.24 L453.57 449.25 L453.91 449.26 L454.25 449.26 L454.59 449.26 L454.93 449.25 L455.27 449.24 L455.61 449.22 L455.95 449.20 L456.29 449.17 L456.63 449.14 L456.97 449.10 L457.32 449.06 L457.66 449.02 L458.00 448.97 L458.34 448.91 L458.68 448.86 L459.02 448.79 L459.36 448.73 L459.70 448.66 L460.04 448.58 L460.38 448.50 L460.72 448.42 L461.06 448.33 L461.39 448.24 L461.73 448.15 L462.07 448.05 L462.40 447.94 L462.74 447.84 L463.07 447.73 L463.41 447.61 L463.74 447.49 L464.07 447.37 L464.40 447.24 L464.74 447.12 L465.06 446.98 L465.39 446.84 L465.72 446.70 L466.05 446.56 L466.37 446.41 L466.70 446.26 L467.02 446.11 L467.34 445.95 L467.66 445.79 L467.98 445.62 L468.30 445.46 L468.61 445.28 L468.93 445.11 L469.24 444.93 L469.55 444.75 L469.86 444.57 L470.17 444.38 L470.48 444.19 L470.78 444.00 L471.08 443.80 L471.39 443.60 L471.69 443.40 L471.98 443.20 L472.28 442.99 L472.57 442.78 L472.86 442.56 L473.15 442.35 L473.44 442.13 L473.73 441.91 L474.01 441.68 L474.29 441.46 L474.57 441.23 L474.85 441.00 L475.12 440.76 L475.39 440.53 L475.66 440.29 L475.93 440.05 L476.19 439.80 L476.46 439.56 L476.71 439.31 L476.97 439.06 L477.23 438.80 L477.48 438.55 L477.73 438.29 L477.97 438.03 L478.21 437.77 L478.45 437.51 L478.69 437.24 L478.93 436.98 L479.16 436.71 L479.38 436.43 L479.61 436.16 L479.83 435.89 L480.05 435.61 L480.27 435.33 L480.48 435.05 L480.69 434.77 L480.90 434.49 L481.10 434.20 L481.30 433.91 L481.50 433.63 L481.70 433.34 L481.89 433.04 L482.08 432.75 L482.27 432.46 L482.45 432.16 L482.64 431.86 L482.82 431.56 L482.99 431.26 L483.17 430.96 L483.34 430.66 L483.51 430.35 L483.68 430.05 L483.85 429.74 L484.01 429.43 L484.17 429.12 L484.33 428.81 L484.49 428.50 L484.65 428.18 L484.80 427.87 L484.95 427.55 L485.10 427.24 L485.25 426.92 L485.40 426.60 L485.54 426.28 L485.68 425.96 L485.82 425.64 L485.96 425.32 L486.10 424.99 L486.24 424.67 L486.37 424.34 L486.50 424.02 L486.64 423.69 L486.77 423.36 L486.90 423.04 L487.02 422.71 L487.15 422.38 L487.27 422.05 L487.40 421.72 L487.52 421.38 L487.64 421.05 L487.76 420.72 L487.88 420.39 L488.00 420.05 L488.12 419.72 L488.23 419.38 L488.35 419.05 L488.46 418.71 L488.58 418.38 L488.69 418.04 L488.80 417.70 L488.91 417.37 L489.02 417.03 L489.13 416.69 L489.24 416.35 L489.35 416.02 L489.46 415.68 L489.57 415.34 L489.68 415.00 L489.78 414.66 L489.89 414.32 L490.00 413.99 L490.11 413.65 L490.21 413.31 L490.32 412.97 L490.43 412.63 L490.53 412.29 L490.64 411.95 L490.74 411.62 L490.85 411.28 L490.96 410.94 L491.06 410.60 L491.17 410.26 L491.28 409.93 L491.38 409.59 L491.49 409.25 L491.60 408.91 L491.70 408.58 L491.81 408.24 L491.92 407.90 L492.03 407.57 L492.13 407.23 L492.24 406.90 L492.35 406.56 L492.46 406.22 L492.56 405.89 L492.67 405.55 L492.78 405.22 L492.89 404.88 L492.99 404.55 L493.10 404.21 L493.21 403.88 L493.32 403.54 L493.43 403.21 L493.54 402.87 L493.64 402.54 L493.75 402.20 L493.86 401.87 L493.97 401.54 L494.08 401.20 L494.19 400.87 L494.30 400.54 L494.41 400.20 L494.52 399.87 L494.63 399.54 L494.74 399.20 L494.85 398.87 L494.96 398.54 L495.07 398.20 L495.18 397.87 L495.29 397.54 L495.40 397.21 L495.51 396.87 L495.62 396.54 L495.73 396.21 L495.84 395.88 L495.95 395.55 L496.06 395.21 L496.17 394.88 L496.29 394.55 L496.40 394.22 L496.51 393.89 L496.62 393.56 L496.73 393.22 L496.85 392.89 L496.96 392.56 L497.07 392.23 L497.18 391.90 L497.30 391.57 L497.41 391.24 L497.52 390.91 L497.63 390.58 L497.75 390.25 L497.86 389.92 L497.98 389.59 L498.09 389.26 L498.20 388.93 L498.32 388.60 L498.43 388.27 L498.55 387.94 L498.66 387.61 L498.78 387.28 L498.89 386.95 L499.01 386.62 L499.12 386.29 L499.24 385.96 L499.35 385.63 L499.47 385.30 L499.58 384.97 L499.70 384.64 L499.82 384.31 L499.93 383.98 L500.05 383.65 L500.17 383.33 L500.28 383.00 L500.40 382.67 L500.52 382.34 L500.64 382.01 L500.75 381.68 L500.87 381.35 L500.99 381.02 L501.11 380.70 L501.23 380.37 L501.35 380.04 L501.46 379.71 L501.58 379.38 L501.70 379.05 L501.82 378.73 L501.94 378.40 L502.06 378.07 L502.18 377.74 L502.30 377.41 L502.42 377.08 L502.54 376.76 L502.67 376.43 L502.79 376.10 L502.91 375.77 L503.03 375.44 L503.15 375.12 L503.27 374.79 L503.40 374.46 L503.52 374.13 L503.64 373.80 L503.76 373.48 L503.89 373.15 L504.01 372.82 L504.13 372.49 L504.26 372.17 L504.38 371.84 L504.51 371.51 L504.63 371.18 L504.76 370.86 L504.88 370.53 L505.01 370.20 L505.13 369.87 L505.26 369.54 L505.38 369.22 L505.51 368.89 L505.64 368.56 L505.76 368.23 L505.89 367.91 L506.02 367.58 L506.14 367.25 L506.27 366.92 L506.40 366.60 L506.53 366.27 L506.66 365.94 L506.78 365.61 L506.91 365.28 L507.04 364.96 L507.17 364.63 L507.30 364.30 L507.43 363.97 L507.56 363.65 L507.69 363.32 L507.82 362.99 L507.95 362.66 L508.08 362.33 L508.22 362.01 L508.35 361.68 L508.48 361.35 L508.61 361.02 L508.74 360.69 L508.88 360.37 L509.01 360.04 L509.14 359.71 L509.28 359.38 L509.41 359.05 L509.55 358.73 L509.68 358.40 L509.82 358.07 L509.95 357.74 L510.09 357.41 L510.22 357.08 L510.36 356.76 L510.49 356.43 L510.63 356.10 L510.77 355.77 L510.90 355.44 L511.04 355.11 L511.18 354.78 L511.32 354.45 L511.46 354.13 L511.59 353.80 L511.70 352.65 L511.89 351.73 L512.09 350.82 L512.28 349.90 L512.48 348.98 L512.68 348.07 L512.88 347.16 L513.08 346.25 L513.28 345.34 L513.49 344.43 L513.69 343.52 L513.90 342.61 L514.11 341.71 L514.32 340.80 L514.53 339.90 L514.75 339.00 L514.96 338.10 L515.18 337.19 L515.40 336.30 L515.62 335.40 L515.84 334.50 L516.06 333.60 L516.29 332.71 L516.51 331.81 L516.74 330.92 L516.97 330.03 L517.20 329.14 L517.43 328.25 L517.66 327.36 L517.90 326.47 L518.13 325.58 L518.37 324.69 L518.61 323.81 L518.85 322.92 L519.09 322.04 L519.33 321.15 L519.57 320.27 L519.82 319.39 L520.06 318.51 L520.31 317.63 L520.56 316.75 L520.81 315.87 L521.06 314.99 L521.31 314.12 L521.56 313.24 L521.82 312.37 L522.07 311.49 L522.33 310.62 L522.59 309.75 L522.84 308.87 L523.10 308.00 L523.37 307.13 L523.63 306.26 L523.89 305.39 L524.16 304.52 L524.42 303.66 L524.69 302.79 L524.96 301.92 L525.22 301.06 L525.49 300.19 L525.76 299.33 L526.04 298.46 L526.31 297.60 L526.58 296.74 L526.86 295.88 L527.13 295.01 L527.41 294.15 L527.69 293.29 L527.96 292.43 L528.24 291.57 L528.52 290.71 L528.80 289.86 L529.09 289.00 L529.37 288.14 L529.65 287.28 L529.94 286.43 L530.22 285.57 L530.51 284.72 L530.79 283.86 L531.08 283.01 L531.37 282.15 L531.66 281.30 L531.95 280.45 L532.24 279.60 L532.53 278.74 L532.82 277.89 L533.12 277.04 L533.41 276.19 L533.70 275.34 L534.00 274.49 L534.29 273.64 L534.59 272.79 L534.89 271.94 L535.19 271.09 L535.48 270.24 L535.78 269.39 L536.08 268.55 L536.38 267.70 L536.68 266.85 L536.98 266.00 L537.29 265.16 L537.59 264.31 L537.89 263.46 L538.19 262.62 L538.50 261.77 L538.80 260.93 L539.11 260.08 L539.41 259.24 L539.72 258.39 L540.02 257.54 L540.33 256.70 L540.64 255.86 L540.95 255.01 L541.25 254.17 L541.56 253.32 L541.87 252.48 L542.18 251.63 L542.49 250.79 L542.80 249.95 L543.11 249.10 L543.42 248.26 L543.73 247.41 L544.04 246.57 L544.35 245.73 L544.67 244.88 L544.98 244.04 L545.29 243.20 L545.60 242.35 L545.92 241.51 L546.23 240.67 L546.54 239.82 L546.85 238.98 L547.17 238.13 L547.48 237.29 L547.80 236.45 L548.11 235.60 L548.43 234.76 L548.74 233.92 L549.05 233.07 L549.37 232.23 L549.68 231.38 L550.00 230.54 L550.31 229.69 L550.63 228.85 L550.94 228.00 L551.26 227.16 L551.57 226.31 L551.89 225.47 L552.21 224.62 L552.52 223.78 L552.84 222.93 L553.15 222.08 L553.47 221.24 L553.78 220.39 L554.10 219.54 L554.41 218.70 L554.73 217.85 L555.04 217.00 L555.36 216.15 L555.67 215.30 L555.99 214.45 L556.30 213.60 L556.62 212.76 L556.93 211.91 L557.24 211.06 L557.56 210.20 L557.87 209.35 L558.18 208.50 L558.50 207.65 L558.81 206.80 L559.12 205.95 L559.44 205.09 L559.75 204.24 L560.06 203.39 L560.37 202.53 L560.68 201.68 L561.00 200.82 L561.31 199.97 L561.62 199.11 L561.93 198.25 L562.24 197.40 L562.55 196.54 L562.86 195.68 L563.17 194.82 L563.47 193.96 L563.78 193.10 L564.09 192.24 L564.40 191.38 L564.70 190.52 L565.01 189.66 L565.32 188.80 L565.62 187.93 L565.93 187.07 L566.23 186.21 L566.54 185.34 L566.84 184.47 L567.14 183.61 L567.44 182.74 L567.75 181.87 L568.05 181.01 L568.35 180.14 L568.65 179.27 L568.95 178.40 L569.25 177.52 L569.55 176.65 L569.84 175.78 L570.14 174.91 L570.44 174.03 L570.73 173.16 L571.03 172.28 L571.32 171.41 L571.62 170.53 L571.91 169.65 L572.20 168.77 L572.49 167.89 L572.78 167.01 L573.07 166.13 L573.36 165.25 L573.65 164.36 L573.94 163.48 L574.23 162.60 L574.51 161.71 L574.80 160.82 L575.08 159.94 L575.37 159.05 L575.65 158.16 L575.94 157.27 L576.22 156.38 L576.50 155.49 L576.79 154.60 L577.07 153.71 L577.36 152.82 L577.64 151.93 L577.93 151.04 L578.21 150.15 L578.50 149.26 L578.79 148.37 L579.08 147.48 L579.37 146.59 L579.66 145.71 L579.95 144.82 L580.25 143.93 L580.54 143.05 L580.84 142.16 L581.14 141.28 L581.45 140.40 L581.75 139.52 L582.06 138.64 L582.37 137.76 L582.68 136.89 L583.00 136.01 L583.32 135.14 L583.64 134.27 L583.96 133.40 L584.29 132.54 L584.62 131.67 L584.96 130.81 L585.30 129.95 L585.64 129.09 L585.99 128.24 L586.34 127.39 L586.69 126.54 L587.05 125.69 L587.41 124.85 L587.78 124.01 L588.16 123.17 L588.53 122.33 L588.92 121.50 L589.30 120.67 L589.70 119.85 L590.09 119.03 L590.50 118.21 L590.91 117.39 L591.32 116.58 L591.74 115.78 L592.17 114.97 L592.60 114.18 L593.04 113.38 L593.49 112.59 L593.94 111.80 L594.40 111.02 L594.87 110.25 L595.34 109.47 L595.82 108.70 L596.30 107.94 L596.80 107.18 L597.30 106.43 L597.81 105.68 L598.32 104.94 L598.85 104.20 L599.38 103.47 L599.92 102.74 L600.47 102.02 L601.02 101.30 L601.59 100.59 L602.16 99.89 L602.74 99.19 L603.33 98.49 L603.93 97.81 L604.54 97.13 L605.16 96.45 L605.79 95.78 L606.42 95.12 L607.07 94.47 L607.72 93.82 L608.38 93.18 L609.05 92.55 L609.73 91.93 L610.42 91.32 L611.11 90.72 L611.81 90.13 L612.52 89.55 L613.23 88.99 L613.95 88.44 L614.67 87.90 L615.40 87.38 L616.13 86.87 L616.87 86.38 L617.62 85.91 L618.36 85.45 L619.11 85.01 L619.86 84.59 L620.62 84.18 L621.38 83.80 L622.14 83.43 L622.90 83.09 L623.66 82.77 L624.43 82.47 L625.19 82.19 L625.96 81.94 L626.73 81.71 L627.49 81.50 L628.26 81.32 L629.02 81.17 L629.79 81.04 L630.55 80.94 L631.31 80.86 L632.07 80.82 L632.82 80.80 L633.58 80.81 L634.33 80.85 L635.07 80.93 L635.81 81.03 L636.55 81.17 L637.29 81.34 L638.02 81.54 L638.74 81.77 L639.46 82.04 L640.18 82.33 L640.89 82.66 L641.59 83.01 L642.29 83.39 L642.98 83.80 L643.67 84.24 L644.35 84.70 L645.03 85.19 L645.70 85.70 L646.37 86.23 L647.03 86.79 L647.68 87.37 L648.32 87.97 L648.96 88.59 L649.60 89.23 L650.22 89.89 L650.84 90.57 L651.45 91.27 L652.06 91.98 L652.66 92.70 L653.25 93.45 L653.83 94.20 L654.41 94.97 L654.98 95.75 L655.54 96.55 L656.10 97.35 L656.64 98.17 L657.18 98.99 L657.71 99.83 L658.23 100.67 L658.74 101.52 L659.25 102.38 L659.75 103.24 L660.23 104.10 L660.71 104.97 L661.18 105.85 L661.64 106.72 L662.10 107.60 L662.54 108.48 L662.97 109.36 L663.40 110.24 L663.81 111.12 L664.22 112.00 L664.62 112.88 L665.01 113.77 L665.40 114.65 L665.78 115.53 L666.15 116.41 L666.51 117.29 L666.87 118.17 L667.22 119.06 L667.56 119.94 L667.90 120.82 L668.24 121.70 L668.57 122.58 L668.89 123.46 L669.21 124.34 L669.53 125.22 L669.84 126.10 L670.15 126.98 L670.46 127.86 L670.76 128.73 L671.06 129.61 L671.36 130.49 L671.66 131.36 L671.95 132.24 L672.25 133.11 L672.54 133.98 L672.83 134.85 L673.12 135.73 L673.41 136.60 L673.70 137.46 L673.99 138.33 L674.28 139.20 L674.57 140.06 L674.86 140.93 L675.16 141.79 L675.45 142.65 L675.75 143.51 L676.05 144.37 L676.35 145.23 L676.65 146.08 L676.96 146.94 L677.27 147.79 L677.58 148.64 L677.89 149.49 L678.20 150.34 L678.51 151.19 L678.83 152.04 L679.14 152.89 L679.46 153.73 L679.78 154.58 L680.10 155.42 L680.43 156.26 L680.75 157.10 L681.08 157.95 L681.40 158.79 L681.73 159.63 L682.06 160.46 L682.38 161.30 L682.71 162.14 L683.04 162.98 L683.38 163.81 L683.71 164.65 L684.04 165.49 L684.37 166.32 L684.71 167.16 L685.04 167.99 L685.38 168.82 L685.71 169.66 L686.04 170.49 L686.38 171.33 L686.72 172.16 L687.05 172.99 L687.39 173.83 L687.72 174.66 L688.06 175.49 L688.39 176.33 L688.73 177.16 L689.06 177.99 L689.39 178.83 L689.73 179.66 L690.06 180.50 L690.39 181.33 L690.73 182.17 L691.06 183.00 L691.39 183.84 L691.72 184.67 L692.05 185.51 L692.38 186.35 L692.71 187.19 L693.03 188.03 L693.36 188.86 L693.68 189.70 L694.00 190.54 L694.33 191.39 L694.65 192.23 L694.97 193.07 L695.29 193.91 L695.60 194.76 L695.92 195.60 L696.24 196.45 L696.55 197.30 L696.86 198.14 L697.17 198.99 L697.49 199.84 L697.80 200.69 L698.10 201.54 L698.41 202.39 L698.72 203.24 L699.03 204.09 L699.33 204.94 L699.63 205.79 L699.94 206.65 L700.24 207.50 L700.54 208.35 L700.84 209.21 L701.14 210.06 L701.44 210.92 L701.74 211.78 L702.03 212.63 L702.33 213.49 L702.62 214.35 L702.92 215.21 L703.21 216.07 L703.50 216.93 L703.79 217.79 L704.09 218.65 L704.38 219.51 L704.66 220.37 L704.95 221.23 L705.24 222.09 L705.53 222.96 L705.81 223.82 L706.10 224.68 L706.38 225.55 L706.67 226.41 L706.95 227.28 L707.23 228.14 L707.51 229.01 L707.80 229.88 L708.08 230.74 L708.36 231.61 L708.64 232.48 L708.91 233.34 L709.19 234.21 L709.47 235.08 L709.75 235.95 L710.02 236.82 L710.30 237.69 L710.57 238.56 L710.85 239.43 L711.12 240.30 L711.39 241.17 L711.67 242.04 L711.94 242.91 L712.21 243.78 L712.48 244.65 L712.75 245.53 L713.02 246.40 L713.29 247.27 L713.56 248.14 L713.83 249.02 L714.10 249.89 L714.37 250.76 L714.64 251.64 L714.90 252.51 L715.17 253.38 L715.44 254.26 L715.70 255.13 L715.97 256.01 L716.24 256.88 L716.50 257.76 L716.77 258.63 L717.03 259.51 L717.29 260.38 L717.56 261.26 L717.82 262.13 L718.09 263.01 L718.35 263.88 L718.61 264.76 L718.87 265.63 L719.14 266.51 L719.40 267.39 L719.66 268.26 L719.92 269.14 L720.19 270.01 L720.45 270.89 L720.71 271.77 L720.97 272.64 L721.23 273.52 L721.49 274.39 L721.75 275.27 L722.01 276.15 L722.27 277.02 L722.53 277.90 L722.80 278.77 L723.06 279.65 L723.32 280.53 L723.58 281.40 L723.84 282.28 L724.10 283.15 L724.36 284.03 L724.62 284.91 L724.88 285.78 L725.14 286.66 L725.40 287.53 L725.66 288.41 L725.92 289.28 L726.18 290.16 L726.44 291.03 L726.70 291.91 L726.96 292.78 L727.22 293.66 L727.49 294.53 L727.75 295.40 L728.01 296.28 L728.27 297.15 L728.53 298.03 L728.79 298.90 L729.05 299.77 L729.32 300.65 L729.58 301.52 L729.84 302.39 L730.11 303.26 L730.37 304.14 L730.63 305.01 L730.90 305.88 L731.16 306.75 L731.42 307.62 L731.69 308.49 L731.95 309.36 L732.22 310.23 L732.48 311.10 L732.75 311.97 L733.02 312.84 L733.28 313.71 L733.55 314.58 L733.82 315.45 L734.08 316.31 L734.35 317.18 L734.62 318.05 L734.89 318.92 L735.16 319.78 L735.43 320.65 L735.70 321.51 L735.97 322.38 L736.24 323.24 L736.51 324.11 L736.78 324.97 L737.06 325.83 L737.33 326.70 L737.60 327.56 L737.88 328.42 L738.15 329.28 L738.43 330.15 L738.70 331.01 L738.98 331.87 L739.26 332.73 L739.53 333.59 L739.81 334.44 L740.09 335.30 L740.37 336.16 L740.65 337.02 L740.93 337.87 L741.21 338.73 L741.50 339.59 L741.78 340.44 L742.06 341.30 L742.35 342.15 L742.63 343.00 L742.92 343.86 L743.20 344.71 L743.49 345.56 L743.78 346.41 L744.07 347.26 L744.36 348.11 L744.64 349.95 L744.72 350.29 L744.80 350.63 L744.88 350.97 L744.96 351.30 L745.04 351.64 L745.13 351.98 L745.21 352.32 L745.30 352.65 L745.38 352.99 L745.47 353.33 L745.55 353.66 L745.64 354.00 L745.73 354.33 L745.82 354.67 L745.91 355.00 L746.00 355.34 L746.09 355.67 L746.18 356.01 L746.27 356.34 L746.37 356.68 L746.46 357.01 L746.55 357.35 L746.65 357.68 L746.74 358.01 L746.84 358.35 L746.94 358.68 L747.04 359.01 L747.13 359.34 L747.23 359.68 L747.33 360.01 L747.43 360.34 L747.53 360.67 L747.63 361.01 L747.73 361.34 L747.84 361.67 L747.94 362.00 L748.04 362.33 L748.15 362.66 L748.25 362.99 L748.36 363.32 L748.46 363.65 L748.57 363.98 L748.67 364.31 L748.78 364.64 L748.89 364.97 L749.00 365.30 L749.11 365.63 L749.22 365.96 L749.33 366.29 L749.44 366.62 L749.55 366.95 L749.66 367.27 L749.77 367.60 L749.88 367.93 L750.00 368.26 L750.11 368.59 L750.22 368.91 L750.34 369.24 L750.45 369.57 L750.57 369.90 L750.68 370.22 L750.80 370.55 L750.92 370.88 L751.03 371.20 L751.15 371.53 L751.27 371.85 L751.39 372.18 L751.51 372.51 L751.63 372.83 L751.74 373.16 L751.86 373.48 L751.99 373.81 L752.11 374.13 L752.23 374.46 L752.35 374.78 L752.47 375.11 L752.59 375.43 L752.72 375.76 L752.84 376.08 L752.96 376.41 L753.09 376.73 L753.21 377.05 L753.34 377.38 L753.46 377.70 L753.59 378.02 L753.71 378.35 L753.84 378.67 L753.97 378.99 L754.09 379.32 L754.22 379.64 L754.35 379.96 L754.47 380.28 L754.60 380.61 L754.73 380.93 L754.86 381.25 L754.99 381.57 L755.12 381.90 L755.25 382.22 L755.38 382.54 L755.51 382.86 L755.64 383.18 L755.77 383.50 L755.90 383.83 L756.03 384.15 L756.16 384.47 L756.29 384.79 L756.42 385.11 L756.56 385.43 L756.69 385.75 L756.82 386.07 L756.95 386.39 L757.09 386.71 L757.22 387.03 L757.35 387.35 L757.49 387.67 L757.62 387.99 L757.76 388.31 L757.89 388.63 L758.02 388.95 L758.16 389.27 L758.29 389.59 L758.43 389.91 L758.56 390.23 L758.70 390.55 L758.83 390.87 L758.97 391.19 L759.11 391.50 L759.24 391.82 L759.38 392.14 L759.51 392.46 L759.65 392.78 L759.79 393.10 L759.92 393.42 L760.06 393.73 L760.20 394.05 L760.33 394.37 L760.47 394.69 L760.61 395.01 L760.74 395.33 L760.88 395.64 L761.02 395.96 L761.16 396.28 L761.29 396.60 L761.43 396.91 L761.57 397.23 L761.71 397.55 L761.84 397.87 L761.98 398.18 L762.12 398.50 L762.26 398.82 L762.40 399.14 L762.53 399.45 L762.67 399.77 L762.81 400.09 L762.95 400.40 L763.09 400.72 L763.22 401.04 L763.36 401.35 L763.50 401.67 L763.64 401.99 L763.78 402.30 L763.91 402.62 L764.05 402.94 L764.19 403.25 L764.33 403.57 L764.47 403.89 L764.60 404.20 L764.74 404.52 L764.88 404.84 L765.02 405.15 L765.15 405.47 L765.29 405.78 L765.43 406.10 L765.57 406.42 L765.70 406.73 L765.84 407.05 L765.98 407.36 L766.12 407.68 L766.25 408.00 L766.39 408.31 L766.53 408.63 L766.67 408.94 L766.80 409.26 L766.94 409.58 L767.08 409.89 L767.21 410.21 L767.35 410.52 L767.49 410.84 L767.63 411.16 L767.77 411.47 L767.90 411.79 L768.04 412.10 L768.18 412.42 L768.32 412.74 L768.46 413.05 L768.60 413.37 L768.73 413.68 L768.87 414.00 L769.01 414.32 L769.15 414.63 L769.29 414.95 L769.43 415.27 L769.57 415.58 L769.71 415.90 L769.86 416.22 L770.00 416.53 L770.14 416.85 L770.28 417.17 L770.42 417.49 L770.57 417.80 L770.71 418.12 L770.85 418.44 L771.00 418.76 L771.14 419.07 L771.29 419.39 L771.43 419.71 L771.58 420.03 L771.72 420.35 L771.87 420.66 L772.02 420.98 L772.17 421.30 L772.32 421.62 L772.46 421.94 L772.61 422.26 L772.76 422.58 L772.91 422.90 L773.07 423.22 L773.22 423.54 L773.37 423.86 L773.52 424.18 L773.68 424.50 L773.83 424.82 L773.99 425.14 L774.14 425.45 L774.30 425.77 L774.46 426.09 L774.62 426.41 L774.78 426.73 L774.95 427.04 L775.11 427.36 L775.27 427.68 L775.44 427.99 L775.61 428.30 L775.78 428.62 L775.95 428.93 L776.12 429.24 L776.30 429.55 L776.47 429.86 L776.65 430.17 L776.83 430.47 L777.01 430.78 L777.20 431.08 L777.38 431.38 L777.57 431.69 L777.76 431.99 L777.95 432.28 L778.14 432.58 L778.34 432.87 L778.54 433.17 L778.74 433.46 L778.94 433.75 L779.15 434.03 L779.36 434.32 L779.57 434.60 L779.78 434.88 L780.00 435.16 L780.21 435.44 L780.44 435.71 L780.66 435.99 L780.89 436.26 L781.12 436.52 L781.35 436.79 L781.59 437.05 L781.82 437.31 L782.07 437.56 L782.31 437.82 L782.56 438.07 L782.81 438.32 L783.06 438.56 L783.32 438.81 L783.58 439.04 L783.84 439.28 L784.10 439.51 L784.37 439.74 L784.64 439.97 L784.91 440.19 L785.19 440.41 L785.46 440.63 L785.74 440.84 L786.02 441.05 L786.30 441.26 L786.59 441.46 L786.88 441.66 L787.17 441.85 L787.46 442.04 L787.75 442.23 L788.05 442.41 L788.34 442.59 L788.64 442.77 L788.94 442.94 L789.24 443.11 L789.55 443.27 L789.85 443.43 L790.16 443.58 L790.47 443.73 L790.78 443.88 L791.09 444.02 L791.40 444.16 L791.72 444.29 L792.03 444.42 L792.35 444.54 L792.67 444.66 L792.98 444.77 L793.30 444.88 L793.63 444.98 L793.95 445.08 L794.27 445.17 L794.59 445.26 L794.92 445.34 L795.24 445.42 L795.57 445.50 L795.90 445.56 L796.22 445.63 L796.55 445.68 L796.88 445.73 L797.21 445.78 L797.54 445.82 L797.87 445.85 L798.20 445.88 L798.53 445.91 L798.86 445.92 L799.19 445.94 L799.52 445.94 L799.85 445.94 L800.18 445.94 L800.51 445.92 L800.84 445.91 L801.17 445.88 L801.50 445.86 L801.83 445.82 L802.16 445.78 L802.49 445.74 L802.82 445.68 L803.15 445.63 L803.48 445.57 L803.81 445.50 L804.13 445.43 L804.46 445.35 L804.79 445.27 L805.11 445.19 L805.44 445.09 L805.76 445.00 L806.09 444.90 L806.41 444.79 L806.73 444.68 L807.06 444.57 L807.38 444.45 L807.70 444.32 L808.02 444.20 L808.33 444.06 L808.65 443.93 L808.97 443.79 L809.28 443.64 L809.59 443.49 L809.91 443.34 L810.22 443.18 L810.53 443.02 L810.84 442.86 L811.14 442.69 L811.45 442.52 L811.75 442.34 L812.06 442.16 L812.36 441.98 L812.66 441.80 L812.95 441.61 L813.25 441.41 L813.54 441.22 L813.84 441.02 L814.13 440.82 L814.42 440.61 L814.70 440.40 L814.99 440.19 L815.27 439.98 L815.55 439.76 L815.83 439.54 L816.11 439.32 L816.38 439.10 L816.66 438.87 L816.93 438.64 L817.20 438.41 L817.46 438.17 L817.73 437.94 L817.99 437.70 L818.25 437.46 L818.50 437.21 L818.76 436.97 L819.01 436.72 L819.26 436.47 L819.50 436.22 L819.75 435.97 L819.99 435.72 L820.22 435.46 L820.46 435.20 L820.69 434.94 L820.92 434.68 L821.15 434.42 L821.38 434.15 L821.60 433.89 L821.82 433.62 L822.04 433.35 L822.26 433.08 L822.47 432.80 L822.68 432.53 L822.89 432.25 L823.10 431.97 L823.31 431.70 L823.51 431.41 L823.71 431.13 L823.91 430.85 L824.11 430.56 L824.30 430.28 L824.49 429.99 L824.68 429.70 L824.87 429.41 L825.06 429.12 L825.24 428.83 L825.43 428.53 L825.61 428.24 L825.79 427.94 L825.96 427.64 L826.14 427.34 L826.31 427.04 L826.49 426.74 L826.66 426.44 L826.82 426.13 L826.99 425.83 L827.16 425.52 L827.32 425.22 L827.48 424.91 L827.64 424.60 L827.80 424.29 L827.96 423.98 L828.11 423.67 L828.27 423.35 L828.42 423.04 L828.57 422.72 L828.72 422.41 L828.87 422.09 L829.02 421.77 L829.17 421.46 L829.31 421.14 L829.45 420.82 L829.60 420.50 L829.74 420.18 L829.88 419.85 L830.02 419.53 L830.15 419.21 L830.29 418.88 L830.43 418.56 L830.56 418.23 L830.69 417.91 L830.83 417.58 L830.96 417.26 L831.09 416.93 L831.22 416.60 L831.35 416.27 L831.48 415.94 L831.60 415.61 L831.73 415.28 L831.86 414.95 L831.98 414.62 L832.10 414.29 L832.23 413.96 L832.35 413.63 L832.47 413.30 L832.59 412.97 L832.71 412.63 L832.83 412.30 L832.95 411.97 L833.07 411.63 L833.19 411.30 L833.31 410.97 L833.43 410.63 L833.54 410.30 L833.66 409.97 L833.78 409.63 L833.89 409.30 L834.01 408.96 L834.13 408.63 L834.24 408.30 L834.36 407.96 L834.47 407.63 L834.58 407.29 L834.70 406.96 L834.81 406.63 L834.93 406.29 L835.04 405.96 L835.16 405.63 L835.27 405.29 L835.38 404.96 L835.50 404.63 L835.61 404.29 L835.73 403.96 L835.84 403.63 L835.96 403.30 L836.07 402.97 L836.18 402.64 L836.30 402.30 L836.41 401.97 L836.53 401.64 L836.64 401.31 L836.76 400.98 L836.87 400.65 L836.99 400.32 L837.10 399.99 L837.22 399.67 L837.33 399.34 L837.45 399.01 L837.56 398.68 L837.68 398.35 L837.79 398.02 L837.91 397.70 L838.03 397.37 L838.14 397.04 L838.26 396.71 L838.37 396.39 L838.49 396.06 L838.61 395.73 L838.72 395.41 L838.84 395.08 L838.96 394.75 L839.07 394.43 L839.19 394.10 L839.31 393.78 L839.42 393.45 L839.54 393.12 L839.66 392.80 L839.77 392.47 L839.89 392.15 L840.01 391.83 L840.12 391.50 L840.24 391.18 L840.36 390.85 L840.48 390.53 L840.60 390.20 L840.71 389.88 L840.83 389.56 L840.95 389.23 L841.07 388.91 L841.19 388.59 L841.30 388.26 L841.42 387.94 L841.54 387.62 L841.66 387.29 L841.78 386.97 L841.90 386.65 L842.02 386.33 L842.13 386.00 L842.25 385.68 L842.37 385.36 L842.49 385.04 L842.61 384.72 L842.73 384.39 L842.85 384.07 L842.97 383.75 L843.09 383.43 L843.21 383.11 L843.33 382.79 L843.45 382.46 L843.57 382.14 L843.69 381.82 L843.81 381.50 L843.93 381.18 L844.05 380.86 L844.17 380.54 L844.29 380.22 L844.42 379.89 L844.54 379.57 L844.66 379.25 L844.78 378.93 L844.90 378.61 L845.02 378.29 L845.14 377.97 L845.27 377.65 L845.39 377.33 L845.51 377.01 L845.63 376.69 L845.76 376.37 L845.88 376.05 L846.00 375.72 L846.12 375.40 L846.25 375.08 L846.37 374.76 L846.49 374.44 L846.62 374.12 L846.74 373.80 L846.86 373.48 L846.99 373.16 L847.11 372.84 L847.23 372.52 L847.36 372.20 L847.48 371.88 L847.61 371.56 L847.73 371.24 L847.85 370.91 L847.98 370.59 L848.10 370.27 L848.23 369.95 L848.35 369.63 L848.48 369.31 L848.60 368.99 L848.73 368.67 L848.85 368.35 L848.98 368.03 L849.11 367.70 L849.23 367.38 L849.36 367.06 L849.48 366.74 L849.61 366.42 L849.74 366.10 L849.86 365.77 L849.99 365.45 L850.12 365.13 L850.24 364.81 L850.37 364.49 L850.50 364.16 L850.63 363.84 L850.75 363.52 L850.88 363.20 L851.01 362.88 L851.14 362.55 L851.26 362.23 L851.39 361.91 L851.52 361.58 L851.65 361.26 L851.78 360.94 L851.91 360.61 L852.04 360.29 L852.17 359.97 L852.30 359.64 L852.42 359.32 L852.55 359.00 L852.68 358.67 L852.81 358.35 L852.94 358.02 L853.07 357.70 L853.20 357.37 L853.33 357.05 L853.47 356.72 L853.60 356.40 L853.73 356.07 L853.86 355.75 L853.99 355.42 L854.12 355.10 L854.25 354.77 L854.38 354.44 L854.52 354.12 L854.65 353.79 L854.78 353.46 L854.91 353.14 L855.05 352.81 L855.18 352.48 L855.31 352.15 L855.44 351.83 L855.58 351.50 L855.71 351.17" stroke="#000" stroke-width="3.2" fill="none" stroke-linejoin="round"/>
<circle cx="292.3" cy="141.3" r="13.0" fill="#fff" stroke="#000" stroke-width="3.0"/><path d="M284.8 143.5 h15 M292.3 136.0 v15" stroke="#000" stroke-width="2.5"/>
<circle cx="627.0" cy="139.6" r="13.0" fill="#fff" stroke="#000" stroke-width="3.0"/><path d="M619.5 141.5 h15 M627.0 134.0 v15" stroke="#000" stroke-width="2.5"/>
<circle cx="114.4" cy="389.2" r="13.0" fill="#fff" stroke="#000" stroke-width="3.0"/><path d="M102.6 389.2 h23.6" stroke="#000" stroke-width="2.2"/>
<circle cx="464.5" cy="387.8" r="12.8" fill="#fff" stroke="#000" stroke-width="3.0"/><path d="M452.9 387.8 h23.2" stroke="#000" stroke-width="2.2"/>
<circle cx="790.6" cy="385.9" r="12.6" fill="#fff" stroke="#000" stroke-width="3.0"/><path d="M779.2 385.9 h22.8" stroke="#000" stroke-width="2.2"/>
<text x="184.55" y="43.75" font-family="Liberation Serif" font-size="27.26" font-weight="bold" font-style="italic">p</text>
<text x="199.40" y="43.80" font-family="Liberation Serif" font-size="27.00" font-weight="bold" font-style="italic">,</text>
<text x="213.00" y="43.70" font-family="Liberation Serif" font-size="26.16" font-weight="bold" font-style="italic">u</text>
<text x="227.70" y="43.00" font-family="Liberation Serif" font-size="27.00" font-weight="bold" font-style="italic">,</text>
<text x="242.70" y="42.10" font-family="Liberation Serif" font-size="23.79" font-weight="bold" font-style="italic">i</text>
<text x="337.45" y="117.30" font-family="Liberation Serif" font-size="28.74" font-weight="bold" font-style="italic">p</text>
<text x="380.00" y="117.10" font-family="Liberation Serif" font-size="28.11" font-weight="bold" font-style="italic">u</text>
<text x="395.52" y="116.55" font-family="Liberation Serif" font-size="24.53" font-weight="bold" font-style="italic">i</text>
<text x="482.90" y="287.75" font-family="Liberation Serif" font-size="26.27" font-weight="bold" font-style="italic">i</text>
<text x="523.10" y="500.75" font-family="Liberation Serif" font-size="27.44" font-weight="bold" font-style="italic">u</text>
<text x="186.60" y="383.10" font-family="Liberation Serif" font-size="29.15" stroke="#000" stroke-width="1.0">0</text>
<text x="536.75" y="376.45" font-family="Liberation Serif" font-size="27.42" stroke="#000" stroke-width="1.0">π</text>
<text x="860.55" y="379.30" font-family="Liberation Serif" font-size="27.02" stroke="#000" stroke-width="1.0">2</text>
<text x="876.15" y="379.75" font-family="Liberation Serif" font-size="26.37" stroke="#000" stroke-width="1.0">π</text>
<text x="1039.40" y="379.50" font-family="Liberation Serif" font-size="29.43" font-weight="bold" font-style="italic">ω</text>
<text x="1065.00" y="379.70" font-family="Liberation Serif" font-size="26.17" font-weight="bold" font-style="italic">t</text>
<text x="923.05" y="317.10" font-family="Liberation Serif" font-size="29.00" font-weight="bold" font-style="italic">P</text>
<text x="968.95" y="316.30" font-family="Liberation Serif" font-size="27.23" font-weight="bold" font-style="italic">U</text>
<text x="988.65" y="316.30" font-family="Liberation Serif" font-size="26.28" font-weight="bold" font-style="italic">I</text>
<text x="1004.60" y="316.65" font-family="Liberation Serif" font-size="28.67" font-weight="bold">cos</text>
<text x="1043.95" y="315.65" font-family="Liberation Serif" font-size="29.91" font-weight="bold" font-style="italic">φ</text>
<text x="109.20" y="533.55" font-family="Liberation Serif" font-size="29.93" font-weight="bold" font-style="italic">φ</text>
<path d="M356.2 103.2 h20.8 M356.2 108.6 h20.8" stroke="#000" stroke-width="2.1"/>
<path d="M944 301.7 h20.4 M944 308 h20.4" stroke="#000" stroke-width="2.1"/>
<rect x="0" y="592.5" width="1080" height="3" fill="#000"/></svg></div>
</body></html>
